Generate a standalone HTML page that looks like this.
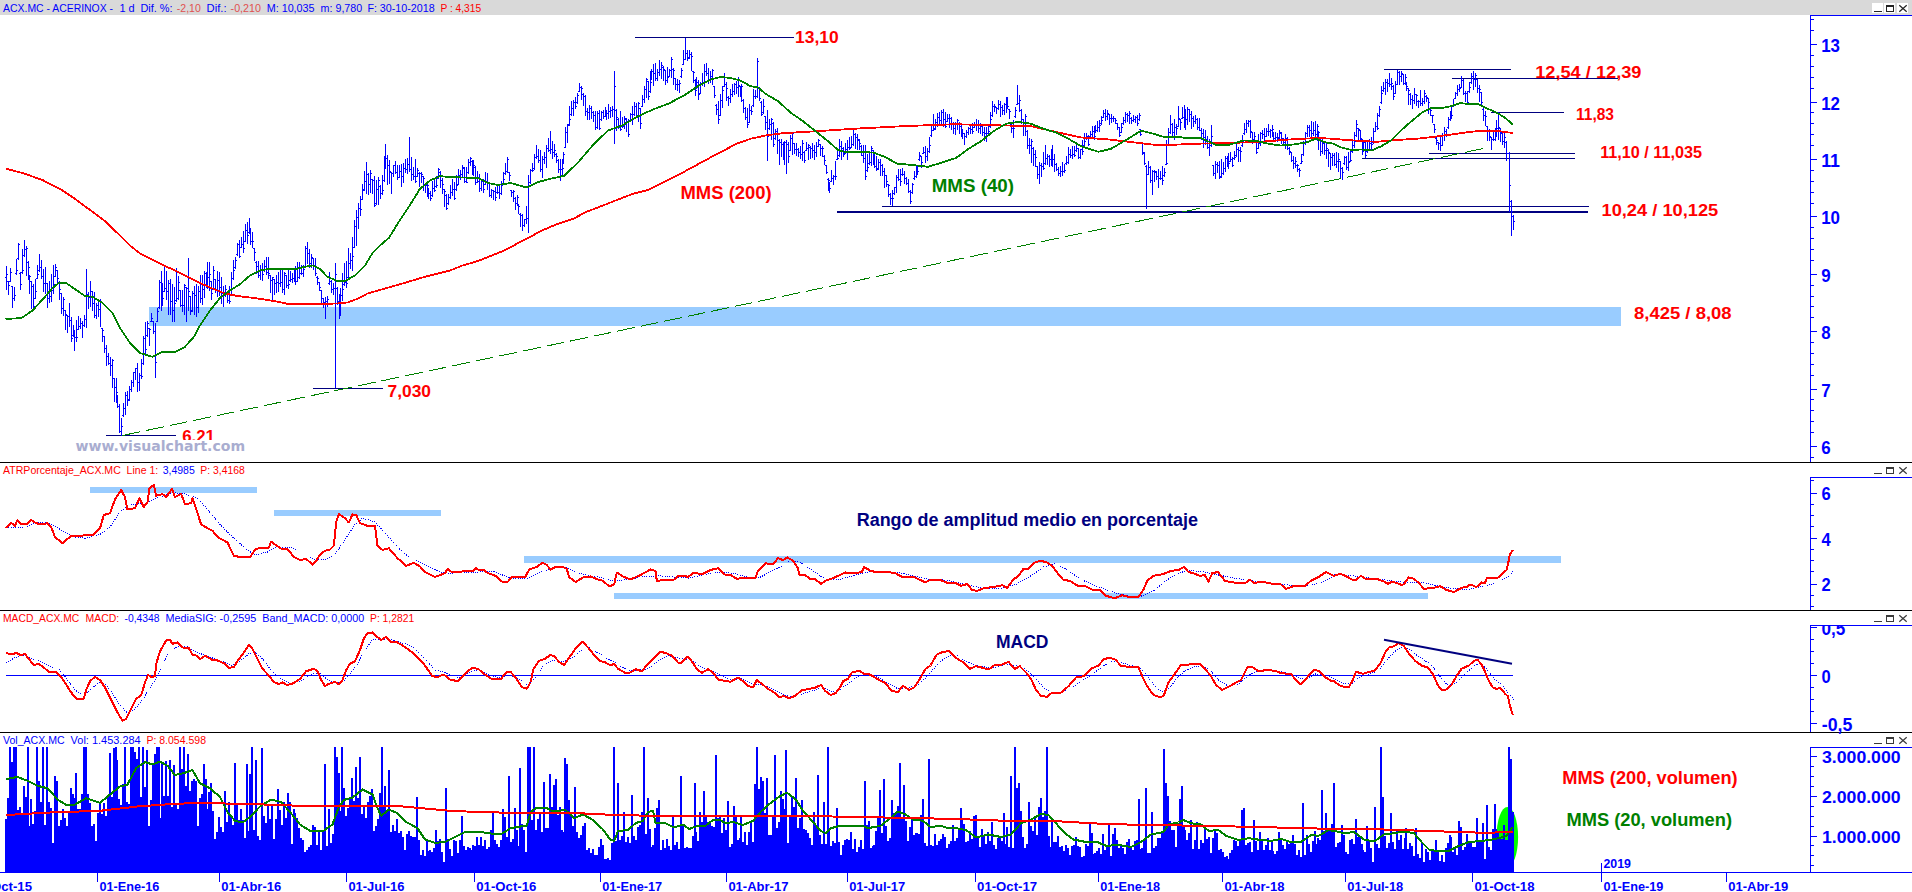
<!DOCTYPE html>
<html lang="es"><head><meta charset="utf-8"><title>ACX.MC - ACERINOX</title>
<style>html,body{margin:0;padding:0;background:#fff;overflow:hidden}svg{display:block;font-family:"Liberation Sans",sans-serif}.c{shape-rendering:crispEdges}</style></head><body>
<svg width="1912" height="892" viewBox="0 0 1912 892">
<rect width="1912" height="892" fill="#fff"/>
<rect x="0" y="0" width="1912" height="15" fill="#d9d9d9" class="c"/>
<text x="3.1" y="12.3" font-size="11" fill="#0000ff" textLength="109.9" lengthAdjust="spacingAndGlyphs" >ACX.MC - ACERINOX -</text>
<text x="119.5" y="12.3" font-size="11" fill="#0000ff" textLength="15.2" lengthAdjust="spacingAndGlyphs" >1 d</text>
<text x="140.4" y="12.3" font-size="11" fill="#0000ff" textLength="32.2" lengthAdjust="spacingAndGlyphs" >Dif. %:</text>
<text x="176.8" y="12.3" font-size="11" fill="#e05050" textLength="24.0" lengthAdjust="spacingAndGlyphs" >-2,10</text>
<text x="206.6" y="12.3" font-size="11" fill="#0000ff" textLength="19.9" lengthAdjust="spacingAndGlyphs" >Dif.:</text>
<text x="230.6" y="12.3" font-size="11" fill="#e05050" textLength="30.4" lengthAdjust="spacingAndGlyphs" >-0,210</text>
<text x="266.7" y="12.3" font-size="11" fill="#0000ff" textLength="47.9" lengthAdjust="spacingAndGlyphs" >M: 10,035</text>
<text x="320.6" y="12.3" font-size="11" fill="#0000ff" textLength="41.6" lengthAdjust="spacingAndGlyphs" >m: 9,780</text>
<text x="367.4" y="12.3" font-size="11" fill="#0000ff" textLength="67.2" lengthAdjust="spacingAndGlyphs" >F: 30-10-2018</text>
<text x="440.4" y="12.3" font-size="11" fill="#ff0000" textLength="40.8" lengthAdjust="spacingAndGlyphs" >P : 4,315</text>
<rect x="1872" y="3" width="11" height="10" fill="#fff" class="c"/>
<rect x="1884" y="3" width="11" height="10" fill="#fff" class="c"/>
<rect x="1897" y="3" width="11" height="10" fill="#fff" class="c"/>
<g fill="#222" class="c"><rect x="1874" y="11" width="8" height="1"/><rect x="1886" y="5" width="8" height="2"/><rect x="1886" y="5" width="1" height="7"/><rect x="1893" y="5" width="1" height="7"/><rect x="1886" y="11" width="8" height="1"/></g>
<path d="M1899.3 5.3L1906.7 11.7M1906.7 5.3L1899.3 11.7" stroke="#222" stroke-width="1.2" fill="none"/>
<rect x="0" y="462" width="1912" height="1" fill="#000" class="c"/>
<rect x="0" y="610" width="1912" height="1" fill="#000" class="c"/>
<rect x="0" y="732" width="1912" height="1" fill="#000" class="c"/>
<g fill="#3a3a3a" class="c">
<rect x="1874" y="473" width="8" height="1"/>
<rect x="1886" y="467" width="8" height="2"/><rect x="1886" y="467" width="1" height="7"/><rect x="1893" y="467" width="1" height="7"/><rect x="1886" y="473" width="8" height="1"/>
</g><path d="M1899.3 467.3L1906.7 473.7M1906.7 467.3L1899.3 473.7" stroke="#3a3a3a" stroke-width="1.2" fill="none"/>
<g fill="#3a3a3a" class="c">
<rect x="1874" y="621" width="8" height="1"/>
<rect x="1886" y="615" width="8" height="2"/><rect x="1886" y="615" width="1" height="7"/><rect x="1893" y="615" width="1" height="7"/><rect x="1886" y="621" width="8" height="1"/>
</g><path d="M1899.3 615.3L1906.7 621.7M1906.7 615.3L1899.3 621.7" stroke="#3a3a3a" stroke-width="1.2" fill="none"/>
<g fill="#3a3a3a" class="c">
<rect x="1874" y="743" width="8" height="1"/>
<rect x="1886" y="737" width="8" height="2"/><rect x="1886" y="737" width="1" height="7"/><rect x="1893" y="737" width="1" height="7"/><rect x="1886" y="743" width="8" height="1"/>
</g><path d="M1899.3 737.3L1906.7 743.7M1906.7 737.3L1899.3 743.7" stroke="#3a3a3a" stroke-width="1.2" fill="none"/>
<g class="c" fill="#0000ff">
<rect x="1810" y="15" width="102" height="1"/>
<rect x="1810" y="15" width="1" height="447"/>
<rect x="1810" y="446" width="7" height="1"/>
<rect x="1810" y="389" width="7" height="1"/>
<rect x="1810" y="331" width="7" height="1"/>
<rect x="1810" y="274" width="7" height="1"/>
<rect x="1810" y="216" width="7" height="1"/>
<rect x="1810" y="159" width="7" height="1"/>
<rect x="1810" y="102" width="7" height="1"/>
<rect x="1810" y="44" width="7" height="1"/>
<rect x="1810" y="457" width="4" height="1"/>
<rect x="1810" y="399" width="4" height="1"/>
<rect x="1810" y="410" width="4" height="1"/>
<rect x="1810" y="421" width="4" height="1"/>
<rect x="1810" y="432" width="4" height="1"/>
<rect x="1810" y="342" width="4" height="1"/>
<rect x="1810" y="353" width="4" height="1"/>
<rect x="1810" y="364" width="4" height="1"/>
<rect x="1810" y="375" width="4" height="1"/>
<rect x="1810" y="285" width="4" height="1"/>
<rect x="1810" y="296" width="4" height="1"/>
<rect x="1810" y="306" width="4" height="1"/>
<rect x="1810" y="317" width="4" height="1"/>
<rect x="1810" y="227" width="4" height="1"/>
<rect x="1810" y="238" width="4" height="1"/>
<rect x="1810" y="249" width="4" height="1"/>
<rect x="1810" y="260" width="4" height="1"/>
<rect x="1810" y="170" width="4" height="1"/>
<rect x="1810" y="181" width="4" height="1"/>
<rect x="1810" y="192" width="4" height="1"/>
<rect x="1810" y="203" width="4" height="1"/>
<rect x="1810" y="112" width="4" height="1"/>
<rect x="1810" y="123" width="4" height="1"/>
<rect x="1810" y="134" width="4" height="1"/>
<rect x="1810" y="145" width="4" height="1"/>
<rect x="1810" y="55" width="4" height="1"/>
<rect x="1810" y="66" width="4" height="1"/>
<rect x="1810" y="77" width="4" height="1"/>
<rect x="1810" y="88" width="4" height="1"/>
<rect x="1810" y="19" width="4" height="1"/>
<rect x="1810" y="30" width="4" height="1"/>
</g>
<text x="1821.2" y="454.0" font-size="17.5" fill="#0000ff" font-weight="bold" textLength="9.4" lengthAdjust="spacingAndGlyphs" >6</text>
<text x="1821.2" y="396.6" font-size="17.5" fill="#0000ff" font-weight="bold" textLength="9.4" lengthAdjust="spacingAndGlyphs" >7</text>
<text x="1821.2" y="339.2" font-size="17.5" fill="#0000ff" font-weight="bold" textLength="9.4" lengthAdjust="spacingAndGlyphs" >8</text>
<text x="1821.2" y="281.8" font-size="17.5" fill="#0000ff" font-weight="bold" textLength="9.4" lengthAdjust="spacingAndGlyphs" >9</text>
<text x="1821.2" y="224.4" font-size="17.5" fill="#0000ff" font-weight="bold" textLength="18.8" lengthAdjust="spacingAndGlyphs" >10</text>
<text x="1821.2" y="167.0" font-size="17.5" fill="#0000ff" font-weight="bold" textLength="18.8" lengthAdjust="spacingAndGlyphs" >11</text>
<text x="1821.2" y="109.6" font-size="17.5" fill="#0000ff" font-weight="bold" textLength="18.8" lengthAdjust="spacingAndGlyphs" >12</text>
<text x="1821.2" y="52.2" font-size="17.5" fill="#0000ff" font-weight="bold" textLength="18.8" lengthAdjust="spacingAndGlyphs" >13</text>
<g class="c" fill="#0000ff">
<rect x="1810" y="477" width="102" height="1"/>
<rect x="1810" y="477" width="1" height="133"/>
<rect x="1810" y="584" width="7" height="1"/>
<rect x="1810" y="538" width="7" height="1"/>
<rect x="1810" y="493" width="7" height="1"/>
<rect x="1810" y="595" width="4" height="1"/>
<rect x="1810" y="606" width="4" height="1"/>
<rect x="1810" y="549" width="4" height="1"/>
<rect x="1810" y="560" width="4" height="1"/>
<rect x="1810" y="571" width="4" height="1"/>
<rect x="1810" y="504" width="4" height="1"/>
<rect x="1810" y="515" width="4" height="1"/>
<rect x="1810" y="526" width="4" height="1"/>
<rect x="1810" y="480" width="4" height="1"/>
</g>
<text x="1821.5" y="590.7" font-size="17.5" fill="#0000ff" font-weight="bold" textLength="9.2" lengthAdjust="spacingAndGlyphs" >2</text>
<text x="1821.5" y="545.5" font-size="17.5" fill="#0000ff" font-weight="bold" textLength="9.2" lengthAdjust="spacingAndGlyphs" >4</text>
<text x="1821.5" y="499.8" font-size="17.5" fill="#0000ff" font-weight="bold" textLength="9.2" lengthAdjust="spacingAndGlyphs" >6</text>
<clipPath id="cm"><rect x="1811" y="626" width="101" height="106"/></clipPath>
<g class="c" fill="#0000ff">
<rect x="1810" y="625" width="102" height="1"/>
<rect x="1810" y="625" width="1" height="107"/>
<rect x="1810" y="627" width="7" height="1"/>
<rect x="1810" y="675" width="7" height="1"/>
<rect x="1810" y="723" width="7" height="1"/>
<rect x="1810" y="711" width="4" height="1"/>
<rect x="1810" y="699" width="4" height="1"/>
<rect x="1810" y="687" width="4" height="1"/>
<rect x="1810" y="663" width="4" height="1"/>
<rect x="1810" y="651" width="4" height="1"/>
<rect x="1810" y="639" width="4" height="1"/>
</g>
<g clip-path="url(#cm)">
<text x="1821.5" y="634.8" font-size="17.5" fill="#0000ff" font-weight="bold" textLength="23.8" lengthAdjust="spacingAndGlyphs" >0,5</text>
</g>
<text x="1821.5" y="682.6" font-size="17.5" fill="#0000ff" font-weight="bold" textLength="9.2" lengthAdjust="spacingAndGlyphs" >0</text>
<text x="1821.8" y="730.5" font-size="17.5" fill="#0000ff" font-weight="bold" textLength="30.6" lengthAdjust="spacingAndGlyphs" >-0,5</text>
<g class="c" fill="#0000ff">
<rect x="1810" y="747" width="102" height="1"/>
<rect x="1810" y="747" width="1" height="125"/>
<rect x="1810" y="836" width="7" height="1"/>
<rect x="1810" y="796" width="7" height="1"/>
<rect x="1810" y="756" width="7" height="1"/>
<rect x="1810" y="865" width="4" height="1"/>
<rect x="1810" y="855" width="4" height="1"/>
<rect x="1810" y="845" width="4" height="1"/>
<rect x="1810" y="826" width="4" height="1"/>
<rect x="1810" y="816" width="4" height="1"/>
<rect x="1810" y="806" width="4" height="1"/>
<rect x="1810" y="786" width="4" height="1"/>
<rect x="1810" y="776" width="4" height="1"/>
<rect x="1810" y="766" width="4" height="1"/>
</g>
<text x="1822.0" y="842.6" font-size="17" fill="#0000ff" font-weight="bold" textLength="78.6" lengthAdjust="spacingAndGlyphs" >1.000.000</text>
<text x="1822.0" y="802.8" font-size="17" fill="#0000ff" font-weight="bold" textLength="78.6" lengthAdjust="spacingAndGlyphs" >2.000.000</text>
<text x="1822.0" y="763.0" font-size="17" fill="#0000ff" font-weight="bold" textLength="78.6" lengthAdjust="spacingAndGlyphs" >3.000.000</text>
<rect x="0" y="872" width="1912" height="1" fill="#0000ff" class="c"/>
<g class="c" fill="#0000ff">
<rect x="97" y="872" width="1" height="10"/>
<rect x="219" y="872" width="1" height="10"/>
<rect x="346" y="872" width="1" height="10"/>
<rect x="474" y="872" width="1" height="10"/>
<rect x="600" y="872" width="1" height="10"/>
<rect x="726" y="872" width="1" height="10"/>
<rect x="847" y="872" width="1" height="10"/>
<rect x="975" y="872" width="1" height="10"/>
<rect x="1098" y="872" width="1" height="10"/>
<rect x="1222" y="872" width="1" height="10"/>
<rect x="1345" y="872" width="1" height="10"/>
<rect x="1472" y="872" width="1" height="10"/>
<rect x="1601" y="872" width="1" height="10"/>
<rect x="1726" y="872" width="1" height="10"/>
<rect x="1601" y="863" width="1" height="19"/>
</g>
<text x="-28.0" y="890.5" font-size="13.3" fill="#0000ff" font-weight="bold" textLength="60.0" lengthAdjust="spacingAndGlyphs" >01-Oct-15</text>
<text x="99.4" y="890.5" font-size="13.3" fill="#0000ff" font-weight="bold" textLength="60.0" lengthAdjust="spacingAndGlyphs" >01-Ene-16</text>
<text x="221.2" y="890.5" font-size="13.3" fill="#0000ff" font-weight="bold" textLength="60.0" lengthAdjust="spacingAndGlyphs" >01-Abr-16</text>
<text x="348.4" y="890.5" font-size="13.3" fill="#0000ff" font-weight="bold" textLength="56.0" lengthAdjust="spacingAndGlyphs" >01-Jul-16</text>
<text x="476.3" y="890.5" font-size="13.3" fill="#0000ff" font-weight="bold" textLength="60.0" lengthAdjust="spacingAndGlyphs" >01-Oct-16</text>
<text x="602.2" y="890.5" font-size="13.3" fill="#0000ff" font-weight="bold" textLength="60.0" lengthAdjust="spacingAndGlyphs" >01-Ene-17</text>
<text x="728.4" y="890.5" font-size="13.3" fill="#0000ff" font-weight="bold" textLength="60.0" lengthAdjust="spacingAndGlyphs" >01-Abr-17</text>
<text x="849.2" y="890.5" font-size="13.3" fill="#0000ff" font-weight="bold" textLength="56.0" lengthAdjust="spacingAndGlyphs" >01-Jul-17</text>
<text x="977.1" y="890.5" font-size="13.3" fill="#0000ff" font-weight="bold" textLength="60.0" lengthAdjust="spacingAndGlyphs" >01-Oct-17</text>
<text x="1100.2" y="890.5" font-size="13.3" fill="#0000ff" font-weight="bold" textLength="60.0" lengthAdjust="spacingAndGlyphs" >01-Ene-18</text>
<text x="1224.4" y="890.5" font-size="13.3" fill="#0000ff" font-weight="bold" textLength="60.0" lengthAdjust="spacingAndGlyphs" >01-Abr-18</text>
<text x="1347.3" y="890.5" font-size="13.3" fill="#0000ff" font-weight="bold" textLength="56.0" lengthAdjust="spacingAndGlyphs" >01-Jul-18</text>
<text x="1474.5" y="890.5" font-size="13.3" fill="#0000ff" font-weight="bold" textLength="60.0" lengthAdjust="spacingAndGlyphs" >01-Oct-18</text>
<text x="1603.4" y="890.5" font-size="13.3" fill="#0000ff" font-weight="bold" textLength="60.0" lengthAdjust="spacingAndGlyphs" >01-Ene-19</text>
<text x="1728.2" y="890.5" font-size="13.3" fill="#0000ff" font-weight="bold" textLength="60.0" lengthAdjust="spacingAndGlyphs" >01-Abr-19</text>
<text x="1603.5" y="867.8" font-size="13" fill="#0000ff" font-weight="bold" textLength="27.5" lengthAdjust="spacingAndGlyphs" >2019</text>
<rect x="149" y="307" width="1472" height="18.6" fill="#99ccff" class="c"/>
<g class="c" fill="#000080">
<rect x="635.0" y="37.0" width="158.5" height="1"/>
<rect x="106.0" y="435.0" width="70.0" height="1"/>
<rect x="313.0" y="388.0" width="69.5" height="1"/>
<rect x="1384.0" y="69.0" width="127.0" height="1"/>
<rect x="1452.0" y="78.0" width="165.7" height="1"/>
<rect x="1491.0" y="112.0" width="73.0" height="1"/>
<rect x="1429.0" y="153.0" width="145.7" height="1"/>
<rect x="1362.0" y="158.0" width="212.7" height="1"/>
<rect x="881.7" y="206.0" width="706.8" height="1"/>
<rect x="837.0" y="211.0" width="751.0" height="2"/>
</g>
<line x1="122.5" y1="435.5" x2="1482.8" y2="148.6" stroke="#008000" stroke-width="1" stroke-dasharray="18 6.07" class="c"/>
<path d="M6.5 265.8V290.1M6.5 277.5h-1.5M6.5 274.5h1.5M8.5 280.9V294.9M8.5 281.5h-1.5M8.5 285.5h1.5M10.5 268.3V282.4M10.5 281.5h-1.5M10.5 272.5h1.5M12.5 285.7V307.5M12.5 286.5h-1.5M12.5 298.5h1.5M14.5 286.6V300.5M14.5 298.5h-1.5M14.5 295.5h1.5M16.5 259.1V274.5M16.5 273.5h-1.5M16.5 270.5h1.5M18.5 243.3V259.7M18.5 258.5h-1.5M18.5 244.5h1.5M20.5 272.3V289.6M20.5 273.5h-1.5M20.5 284.5h1.5M22.5 249.3V273.6M22.5 272.5h-1.5M22.5 270.5h1.5M24.5 240.0V256.8M24.5 255.5h-1.5M24.5 249.5h1.5M26.5 245.8V275.6M26.5 249.5h-1.5M26.5 248.5h1.5M28.5 261.2V280.1M28.5 262.5h-1.5M28.5 267.5h1.5M29.5 275.0V294.2M29.5 276.5h-1.5M29.5 276.5h1.5M31.5 280.5V309.1M31.5 281.5h-1.5M31.5 286.5h1.5M33.5 284.4V309.3M33.5 286.5h-1.5M33.5 306.5h1.5M35.5 279.2V299.3M35.5 298.5h-1.5M35.5 291.5h1.5M37.5 264.9V279.3M37.5 278.5h-1.5M37.5 274.5h1.5M39.5 254.4V271.8M39.5 270.5h-1.5M39.5 267.5h1.5M41.5 260.1V279.3M41.5 267.5h-1.5M41.5 276.5h1.5M43.5 268.7V292.4M43.5 276.5h-1.5M43.5 283.5h1.5M45.5 266.8V294.4M45.5 283.5h-1.5M45.5 283.5h1.5M47.5 283.0V308.4M47.5 283.5h-1.5M47.5 298.5h1.5M49.5 281.1V303.1M49.5 298.5h-1.5M49.5 296.5h1.5M51.5 274.0V302.3M51.5 296.5h-1.5M51.5 290.5h1.5M53.5 264.8V293.8M53.5 290.5h-1.5M53.5 284.5h1.5M55.5 263.9V277.3M55.5 276.5h-1.5M55.5 267.5h1.5M57.5 269.7V283.1M57.5 270.5h-1.5M57.5 278.5h1.5M59.5 281.2V299.5M59.5 282.5h-1.5M59.5 289.5h1.5M61.5 292.6V314.4M61.5 293.5h-1.5M61.5 308.5h1.5M63.5 297.3V315.9M63.5 308.5h-1.5M63.5 299.5h1.5M65.5 310.0V330.3M65.5 310.5h-1.5M65.5 314.5h1.5M67.5 314.6V333.4M67.5 315.5h-1.5M67.5 316.5h1.5M69.5 303.4V326.5M69.5 316.5h-1.5M69.5 320.5h1.5M71.5 317.1V341.5M71.5 320.5h-1.5M71.5 338.5h1.5M73.5 325.4V336.5M73.5 335.5h-1.5M73.5 332.5h1.5M74.5 330.2V350.5M74.5 332.5h-1.5M74.5 337.5h1.5M76.5 320.2V342.4M76.5 337.5h-1.5M76.5 337.5h1.5M78.5 315.8V330.2M78.5 329.5h-1.5M78.5 326.5h1.5M80.5 318.0V328.6M80.5 326.5h-1.5M80.5 323.5h1.5M82.5 320.8V338.1M82.5 323.5h-1.5M82.5 325.5h1.5M84.5 315.4V327.0M84.5 325.5h-1.5M84.5 319.5h1.5M86.5 269.0V328.0M86.5 319.5h-1.5M86.5 294.5h1.5M88.5 291.5V309.2M88.5 294.5h-1.5M88.5 297.5h1.5M90.5 280.6V306.6M90.5 297.5h-1.5M90.5 291.5h1.5M92.5 290.6V311.0M92.5 291.5h-1.5M92.5 303.5h1.5M94.5 292.0V317.8M94.5 303.5h-1.5M94.5 315.5h1.5M96.5 303.4V319.4M96.5 315.5h-1.5M96.5 305.5h1.5M98.5 298.8V317.2M98.5 305.5h-1.5M98.5 309.5h1.5M100.5 299.4V327.1M100.5 309.5h-1.5M100.5 301.5h1.5M102.5 327.5V342.3M102.5 328.5h-1.5M102.5 330.5h1.5M104.5 335.8V352.5M104.5 336.5h-1.5M104.5 348.5h1.5M106.5 344.8V365.7M106.5 348.5h-1.5M106.5 356.5h1.5M108.5 352.8V364.9M108.5 356.5h-1.5M108.5 363.5h1.5M110.5 357.3V376.4M110.5 363.5h-1.5M110.5 365.5h1.5M112.5 358.8V387.8M112.5 365.5h-1.5M112.5 360.5h1.5M114.5 377.5V402.3M114.5 378.5h-1.5M114.5 387.5h1.5M116.5 378.1V402.9M116.5 387.5h-1.5M116.5 392.5h1.5M117.5 394.9V408.4M117.5 395.5h-1.5M117.5 406.5h1.5M119.5 404.1V432.6M119.5 406.5h-1.5M119.5 431.5h1.5M121.5 418.0V435.5M121.5 431.5h-1.5M121.5 426.5h1.5M123.5 402.8V416.9M123.5 415.5h-1.5M123.5 408.5h1.5M125.5 392.3V415.4M125.5 408.5h-1.5M125.5 395.5h1.5M127.5 391.2V406.1M127.5 395.5h-1.5M127.5 400.5h1.5M129.5 386.2V400.5M129.5 399.5h-1.5M129.5 389.5h1.5M131.5 380.1V391.9M131.5 389.5h-1.5M131.5 382.5h1.5M133.5 371.8V386.5M133.5 382.5h-1.5M133.5 372.5h1.5M135.5 367.5V380.4M135.5 372.5h-1.5M135.5 368.5h1.5M137.5 363.2V392.2M137.5 368.5h-1.5M137.5 382.5h1.5M139.5 373.1V390.8M139.5 382.5h-1.5M139.5 375.5h1.5M141.5 359.1V378.5M141.5 375.5h-1.5M141.5 376.5h1.5M143.5 335.5V364.5M143.5 363.5h-1.5M143.5 338.5h1.5M145.5 321.8V355.1M145.5 338.5h-1.5M145.5 349.5h1.5M147.5 321.1V336.9M147.5 335.5h-1.5M147.5 323.5h1.5M149.5 328.0V345.5M149.5 328.5h-1.5M149.5 329.5h1.5M151.5 312.5V322.0M151.5 321.5h-1.5M151.5 318.5h1.5M153.5 333.7V322.0M153.5 321.5h-1.5M153.5 331.5h1.5M155.5 323.0V378.0M155.5 331.5h-1.5M155.5 362.5h1.5M157.5 307.8V322.0M157.5 321.5h-1.5M157.5 311.5h1.5M159.5 280.0V308.7M159.5 307.5h-1.5M159.5 282.5h1.5M161.5 271.2V310.8M161.5 282.5h-1.5M161.5 301.5h1.5M162.5 282.9V305.6M162.5 301.5h-1.5M162.5 298.5h1.5M164.5 267.3V292.4M164.5 291.5h-1.5M164.5 288.5h1.5M166.5 270.5V299.6M166.5 288.5h-1.5M166.5 291.5h1.5M168.5 279.7V315.1M168.5 291.5h-1.5M168.5 283.5h1.5M170.5 278.5V314.8M170.5 283.5h-1.5M170.5 301.5h1.5M172.5 283.7V322.0M172.5 301.5h-1.5M172.5 310.5h1.5M174.5 286.9V321.8M174.5 310.5h-1.5M174.5 303.5h1.5M176.5 268.2V301.7M176.5 300.5h-1.5M176.5 298.5h1.5M178.5 275.6V300.3M178.5 298.5h-1.5M178.5 282.5h1.5M180.5 289.9V306.9M180.5 290.5h-1.5M180.5 305.5h1.5M182.5 290.4V312.3M182.5 305.5h-1.5M182.5 305.5h1.5M184.5 284.4V314.8M184.5 305.5h-1.5M184.5 285.5h1.5M186.5 286.9V322.0M186.5 287.5h-1.5M186.5 288.5h1.5M188.5 258.0V310.5M188.5 288.5h-1.5M188.5 291.5h1.5M190.5 295.6V315.3M190.5 296.5h-1.5M190.5 311.5h1.5M192.5 291.3V311.9M192.5 310.5h-1.5M192.5 293.5h1.5M194.5 286.0V314.6M194.5 293.5h-1.5M194.5 295.5h1.5M196.5 284.1V317.2M196.5 295.5h-1.5M196.5 307.5h1.5M198.5 285.9V312.6M198.5 307.5h-1.5M198.5 291.5h1.5M200.5 274.6V302.8M200.5 291.5h-1.5M200.5 298.5h1.5M202.5 275.4V305.0M202.5 298.5h-1.5M202.5 289.5h1.5M204.5 271.1V298.4M204.5 289.5h-1.5M204.5 273.5h1.5M206.5 271.9V287.8M206.5 273.5h-1.5M206.5 277.5h1.5M207.5 262.2V288.9M207.5 277.5h-1.5M207.5 277.5h1.5M209.5 261.8V291.3M209.5 277.5h-1.5M209.5 274.5h1.5M211.5 281.0V300.0M211.5 281.5h-1.5M211.5 293.5h1.5M213.5 265.8V290.1M213.5 289.5h-1.5M213.5 270.5h1.5M215.5 278.8V293.3M215.5 279.5h-1.5M215.5 289.5h1.5M217.5 270.6V296.8M217.5 289.5h-1.5M217.5 280.5h1.5M219.5 271.9V296.2M219.5 280.5h-1.5M219.5 287.5h1.5M221.5 277.0V303.6M221.5 287.5h-1.5M221.5 293.5h1.5M223.5 285.7V306.8M223.5 293.5h-1.5M223.5 294.5h1.5M225.5 284.7V297.3M225.5 294.5h-1.5M225.5 289.5h1.5M227.5 292.3V302.9M227.5 293.5h-1.5M227.5 300.5h1.5M229.5 286.0V303.7M229.5 300.5h-1.5M229.5 301.5h1.5M231.5 272.4V295.0M231.5 294.5h-1.5M231.5 289.5h1.5M233.5 259.5V279.7M233.5 278.5h-1.5M233.5 270.5h1.5M235.5 256.7V268.8M235.5 267.5h-1.5M235.5 260.5h1.5M237.5 243.2V255.9M237.5 254.5h-1.5M237.5 244.5h1.5M239.5 239.9V257.5M239.5 244.5h-1.5M239.5 256.5h1.5M241.5 237.1V248.4M241.5 247.5h-1.5M241.5 244.5h1.5M243.5 231.1V253.3M243.5 244.5h-1.5M243.5 248.5h1.5M245.5 224.3V242.1M245.5 241.5h-1.5M245.5 230.5h1.5M247.5 221.8V244.2M247.5 230.5h-1.5M247.5 235.5h1.5M249.5 218.0V233.7M249.5 232.5h-1.5M249.5 232.5h1.5M250.5 227.9V245.3M250.5 232.5h-1.5M250.5 241.5h1.5M252.5 231.5V248.1M252.5 241.5h-1.5M252.5 241.5h1.5M254.5 247.7V260.7M254.5 248.5h-1.5M254.5 252.5h1.5M256.5 261.3V274.1M256.5 262.5h-1.5M256.5 266.5h1.5M258.5 260.9V278.2M258.5 266.5h-1.5M258.5 275.5h1.5M260.5 265.0V280.0M260.5 275.5h-1.5M260.5 270.5h1.5M262.5 262.9V280.6M262.5 270.5h-1.5M262.5 274.5h1.5M264.5 259.9V271.6M264.5 270.5h-1.5M264.5 266.5h1.5M266.5 257.0V275.4M266.5 266.5h-1.5M266.5 272.5h1.5M268.5 256.9V278.6M268.5 272.5h-1.5M268.5 273.5h1.5M270.5 274.9V293.2M270.5 275.5h-1.5M270.5 280.5h1.5M272.5 276.6V300.8M272.5 280.5h-1.5M272.5 277.5h1.5M274.5 278.5V295.3M274.5 279.5h-1.5M274.5 283.5h1.5M276.5 275.1V292.7M276.5 283.5h-1.5M276.5 282.5h1.5M278.5 271.9V291.9M278.5 282.5h-1.5M278.5 283.5h1.5M280.5 269.8V286.5M280.5 283.5h-1.5M280.5 282.5h1.5M282.5 269.8V292.9M282.5 282.5h-1.5M282.5 289.5h1.5M284.5 271.7V294.7M284.5 289.5h-1.5M284.5 273.5h1.5M286.5 274.8V288.1M286.5 275.5h-1.5M286.5 285.5h1.5M288.5 267.9V289.1M288.5 285.5h-1.5M288.5 284.5h1.5M290.5 270.6V281.8M290.5 280.5h-1.5M290.5 279.5h1.5M292.5 273.1V283.2M292.5 279.5h-1.5M292.5 278.5h1.5M294.5 269.5V281.6M294.5 278.5h-1.5M294.5 273.5h1.5M295.5 265.6V284.7M295.5 273.5h-1.5M295.5 281.5h1.5M297.5 262.0V282.3M297.5 281.5h-1.5M297.5 277.5h1.5M299.5 261.9V279.0M299.5 277.5h-1.5M299.5 273.5h1.5M301.5 264.7V275.3M301.5 273.5h-1.5M301.5 273.5h1.5M303.5 265.0V276.7M303.5 273.5h-1.5M303.5 269.5h1.5M305.5 246.2V267.6M305.5 266.5h-1.5M305.5 248.5h1.5M307.5 242.0V263.6M307.5 248.5h-1.5M307.5 253.5h1.5M309.5 248.9V267.9M309.5 253.5h-1.5M309.5 263.5h1.5M311.5 253.6V268.2M311.5 263.5h-1.5M311.5 257.5h1.5M313.5 257.5V270.0M313.5 258.5h-1.5M313.5 266.5h1.5M315.5 258.0V275.5M315.5 266.5h-1.5M315.5 273.5h1.5M317.5 276.0V285.0M317.5 277.5h-1.5M317.5 278.5h1.5M319.5 281.7V290.8M319.5 282.5h-1.5M319.5 287.5h1.5M321.5 289.7V303.0M321.5 290.5h-1.5M321.5 298.5h1.5M323.5 297.9V307.7M323.5 298.5h-1.5M323.5 302.5h1.5M325.5 296.7V318.6M325.5 302.5h-1.5M325.5 301.5h1.5M327.5 295.9V306.7M327.5 301.5h-1.5M327.5 299.5h1.5M329.5 271.5V284.8M329.5 283.5h-1.5M329.5 281.5h1.5M331.5 279.5V293.3M331.5 281.5h-1.5M331.5 289.5h1.5M333.5 282.9V294.8M333.5 289.5h-1.5M333.5 288.5h1.5M335.5 263.0V388.0M335.5 288.5h-1.5M335.5 274.5h1.5M337.5 287.0V305.2M337.5 288.5h-1.5M337.5 301.5h1.5M339.5 293.6V318.6M339.5 301.5h-1.5M339.5 312.5h1.5M340.5 288.4V316.2M340.5 312.5h-1.5M340.5 295.5h1.5M342.5 273.3V301.0M342.5 295.5h-1.5M342.5 289.5h1.5M344.5 263.2V285.8M344.5 284.5h-1.5M344.5 282.5h1.5M346.5 260.9V287.7M346.5 282.5h-1.5M346.5 283.5h1.5M348.5 247.9V278.1M348.5 277.5h-1.5M348.5 263.5h1.5M350.5 253.0V269.0M350.5 263.5h-1.5M350.5 260.5h1.5M352.5 236.5V270.8M352.5 260.5h-1.5M352.5 256.5h1.5M354.5 220.3V248.1M354.5 247.5h-1.5M354.5 226.5h1.5M356.5 210.1V246.4M356.5 226.5h-1.5M356.5 217.5h1.5M358.5 202.6V229.4M358.5 217.5h-1.5M358.5 208.5h1.5M360.5 196.1V216.3M360.5 208.5h-1.5M360.5 209.5h1.5M362.5 183.8V200.2M362.5 199.5h-1.5M362.5 190.5h1.5M364.5 170.6V190.7M364.5 189.5h-1.5M364.5 181.5h1.5M366.5 161.7V194.0M366.5 181.5h-1.5M366.5 174.5h1.5M368.5 173.4V195.1M368.5 174.5h-1.5M368.5 184.5h1.5M370.5 169.8V192.6M370.5 184.5h-1.5M370.5 173.5h1.5M372.5 178.6V194.1M372.5 179.5h-1.5M372.5 180.5h1.5M374.5 175.5V206.5M374.5 180.5h-1.5M374.5 205.5h1.5M376.5 180.0V204.5M376.5 203.5h-1.5M376.5 189.5h1.5M378.5 177.0V205.4M378.5 189.5h-1.5M378.5 180.5h1.5M380.5 185.4V199.1M380.5 186.5h-1.5M380.5 193.5h1.5M382.5 174.9V195.0M382.5 193.5h-1.5M382.5 190.5h1.5M384.5 155.6V181.9M384.5 180.5h-1.5M384.5 160.5h1.5M385.5 144.4V168.7M385.5 160.5h-1.5M385.5 158.5h1.5M387.5 155.3V184.6M387.5 158.5h-1.5M387.5 165.5h1.5M389.5 159.6V183.5M389.5 165.5h-1.5M389.5 171.5h1.5M391.5 171.7V193.7M391.5 172.5h-1.5M391.5 173.5h1.5M393.5 164.5V176.6M393.5 173.5h-1.5M393.5 165.5h1.5M395.5 161.1V174.1M395.5 165.5h-1.5M395.5 172.5h1.5M397.5 165.1V179.7M397.5 172.5h-1.5M397.5 177.5h1.5M399.5 165.3V178.2M399.5 177.5h-1.5M399.5 171.5h1.5M401.5 163.9V186.8M401.5 171.5h-1.5M401.5 176.5h1.5M403.5 163.0V182.5M403.5 176.5h-1.5M403.5 168.5h1.5M405.5 159.2V172.9M405.5 168.5h-1.5M405.5 169.5h1.5M407.5 157.5V173.5M407.5 169.5h-1.5M407.5 164.5h1.5M409.5 137.0V172.0M409.5 164.5h-1.5M409.5 169.5h1.5M411.5 156.8V180.5M411.5 169.5h-1.5M411.5 174.5h1.5M413.5 166.5V179.9M413.5 174.5h-1.5M413.5 176.5h1.5M415.5 159.3V182.8M415.5 176.5h-1.5M415.5 181.5h1.5M417.5 167.6V177.1M417.5 176.5h-1.5M417.5 170.5h1.5M419.5 172.4V186.8M419.5 173.5h-1.5M419.5 173.5h1.5M421.5 171.8V183.4M421.5 173.5h-1.5M421.5 174.5h1.5M423.5 175.6V190.5M423.5 176.5h-1.5M423.5 178.5h1.5M425.5 184.1V193.4M425.5 185.5h-1.5M425.5 185.5h1.5M427.5 184.0V196.8M427.5 185.5h-1.5M427.5 185.5h1.5M428.5 187.6V199.0M428.5 188.5h-1.5M428.5 193.5h1.5M430.5 190.5V200.8M430.5 193.5h-1.5M430.5 198.5h1.5M432.5 180.7V196.7M432.5 195.5h-1.5M432.5 188.5h1.5M434.5 177.6V192.3M434.5 188.5h-1.5M434.5 190.5h1.5M436.5 175.9V187.9M436.5 186.5h-1.5M436.5 185.5h1.5M438.5 167.9V179.4M438.5 178.5h-1.5M438.5 169.5h1.5M440.5 171.4V187.6M440.5 172.5h-1.5M440.5 180.5h1.5M442.5 178.1V193.5M442.5 180.5h-1.5M442.5 184.5h1.5M444.5 188.5V206.9M444.5 189.5h-1.5M444.5 191.5h1.5M446.5 194.1V210.0M446.5 195.5h-1.5M446.5 208.5h1.5M448.5 194.4V204.5M448.5 203.5h-1.5M448.5 197.5h1.5M450.5 184.5V199.1M450.5 197.5h-1.5M450.5 192.5h1.5M452.5 178.9V196.4M452.5 192.5h-1.5M452.5 189.5h1.5M454.5 182.3V200.2M454.5 189.5h-1.5M454.5 198.5h1.5M456.5 174.5V190.8M456.5 189.5h-1.5M456.5 185.5h1.5M458.5 168.6V185.3M458.5 184.5h-1.5M458.5 175.5h1.5M460.5 169.5V179.6M460.5 175.5h-1.5M460.5 174.5h1.5M462.5 164.8V177.8M462.5 174.5h-1.5M462.5 167.5h1.5M464.5 167.4V183.0M464.5 168.5h-1.5M464.5 181.5h1.5M466.5 166.8V183.2M466.5 181.5h-1.5M466.5 182.5h1.5M468.5 159.0V173.8M468.5 172.5h-1.5M468.5 162.5h1.5M470.5 157.3V166.0M470.5 162.5h-1.5M470.5 158.5h1.5M472.5 160.2V175.2M472.5 161.5h-1.5M472.5 164.5h1.5M473.5 160.0V175.5M473.5 164.5h-1.5M473.5 165.5h1.5M475.5 166.4V184.8M475.5 167.5h-1.5M475.5 182.5h1.5M477.5 171.4V183.4M477.5 182.5h-1.5M477.5 181.5h1.5M479.5 174.2V192.1M479.5 181.5h-1.5M479.5 188.5h1.5M481.5 180.0V191.3M481.5 188.5h-1.5M481.5 181.5h1.5M483.5 178.6V193.3M483.5 181.5h-1.5M483.5 189.5h1.5M485.5 172.4V185.3M485.5 184.5h-1.5M485.5 181.5h1.5M487.5 173.0V190.1M487.5 181.5h-1.5M487.5 183.5h1.5M489.5 182.1V197.2M489.5 183.5h-1.5M489.5 195.5h1.5M491.5 188.6V198.1M491.5 195.5h-1.5M491.5 190.5h1.5M493.5 189.7V200.2M493.5 190.5h-1.5M493.5 191.5h1.5M495.5 187.0V200.9M495.5 191.5h-1.5M495.5 197.5h1.5M497.5 186.3V193.8M497.5 192.5h-1.5M497.5 192.5h1.5M499.5 184.8V198.9M499.5 192.5h-1.5M499.5 193.5h1.5M501.5 180.7V194.6M501.5 193.5h-1.5M501.5 185.5h1.5M503.5 172.1V184.3M503.5 183.5h-1.5M503.5 179.5h1.5M505.5 162.7V174.5M505.5 173.5h-1.5M505.5 171.5h1.5M507.5 156.8V173.1M507.5 171.5h-1.5M507.5 159.5h1.5M509.5 171.8V181.1M509.5 172.5h-1.5M509.5 175.5h1.5M511.5 189.7V197.3M511.5 190.5h-1.5M511.5 192.5h1.5M513.5 189.6V202.0M513.5 192.5h-1.5M513.5 191.5h1.5M515.5 197.4V209.5M515.5 198.5h-1.5M515.5 203.5h1.5M517.5 194.7V204.8M517.5 203.5h-1.5M517.5 197.5h1.5M518.5 204.2V213.6M518.5 205.5h-1.5M518.5 206.5h1.5M520.5 213.2V226.5M520.5 214.5h-1.5M520.5 215.5h1.5M522.5 213.8V230.9M522.5 215.5h-1.5M522.5 225.5h1.5M524.5 218.7V227.2M524.5 225.5h-1.5M524.5 219.5h1.5M526.5 206.1V223.6M526.5 219.5h-1.5M526.5 218.5h1.5M528.5 175.0V232.5M528.5 218.5h-1.5M528.5 186.5h1.5M530.5 168.6V183.7M530.5 182.5h-1.5M530.5 170.5h1.5M532.5 162.8V172.3M532.5 170.5h-1.5M532.5 170.5h1.5M534.5 154.0V169.5M534.5 168.5h-1.5M534.5 157.5h1.5M536.5 144.8V158.6M536.5 157.5h-1.5M536.5 156.5h1.5M538.5 148.8V163.0M538.5 156.5h-1.5M538.5 160.5h1.5M540.5 150.4V172.4M540.5 160.5h-1.5M540.5 169.5h1.5M542.5 156.0V178.3M542.5 169.5h-1.5M542.5 159.5h1.5M544.5 152.0V163.7M544.5 159.5h-1.5M544.5 157.5h1.5M546.5 145.2V168.1M546.5 157.5h-1.5M546.5 148.5h1.5M548.5 138.4V152.2M548.5 148.5h-1.5M548.5 150.5h1.5M550.5 130.9V153.6M550.5 150.5h-1.5M550.5 149.5h1.5M552.5 141.4V158.7M552.5 149.5h-1.5M552.5 152.5h1.5M554.5 144.0V157.1M554.5 152.5h-1.5M554.5 150.5h1.5M556.5 153.2V163.3M556.5 154.5h-1.5M556.5 156.5h1.5M558.5 159.2V172.6M558.5 160.5h-1.5M558.5 169.5h1.5M560.5 158.5V180.6M560.5 169.5h-1.5M560.5 169.5h1.5M562.5 158.8V175.1M562.5 169.5h-1.5M562.5 168.5h1.5M563.5 151.6V163.7M563.5 162.5h-1.5M563.5 154.5h1.5M565.5 126.9V148.4M565.5 147.5h-1.5M565.5 132.5h1.5M567.5 123.8V143.3M567.5 132.5h-1.5M567.5 125.5h1.5M569.5 106.0V125.6M569.5 124.5h-1.5M569.5 119.5h1.5M571.5 101.0V115.6M571.5 114.5h-1.5M571.5 108.5h1.5M573.5 99.7V116.0M573.5 108.5h-1.5M573.5 102.5h1.5M575.5 96.6V109.4M575.5 102.5h-1.5M575.5 106.5h1.5M577.5 92.5V103.8M577.5 102.5h-1.5M577.5 95.5h1.5M579.5 83.2V92.1M579.5 91.5h-1.5M579.5 87.5h1.5M581.5 85.8V100.1M581.5 87.5h-1.5M581.5 88.5h1.5M583.5 93.0V105.8M583.5 94.5h-1.5M583.5 96.5h1.5M585.5 95.0V115.5M585.5 96.5h-1.5M585.5 111.5h1.5M587.5 108.3V120.0M587.5 111.5h-1.5M587.5 112.5h1.5M589.5 104.8V120.2M589.5 112.5h-1.5M589.5 108.5h1.5M591.5 105.6V118.9M591.5 108.5h-1.5M591.5 112.5h1.5M593.5 111.4V122.2M593.5 112.5h-1.5M593.5 115.5h1.5M595.5 111.4V130.3M595.5 115.5h-1.5M595.5 127.5h1.5M597.5 110.8V129.3M597.5 127.5h-1.5M597.5 113.5h1.5M599.5 110.3V129.7M599.5 113.5h-1.5M599.5 128.5h1.5M601.5 110.6V120.6M601.5 119.5h-1.5M601.5 112.5h1.5M603.5 109.6V118.5M603.5 112.5h-1.5M603.5 116.5h1.5M605.5 107.2V117.3M605.5 116.5h-1.5M605.5 113.5h1.5M606.5 110.4V120.3M606.5 113.5h-1.5M606.5 113.5h1.5M608.5 104.1V118.5M608.5 113.5h-1.5M608.5 111.5h1.5M610.5 107.1V118.2M610.5 111.5h-1.5M610.5 110.5h1.5M612.5 105.8V116.7M612.5 110.5h-1.5M612.5 109.5h1.5M614.5 71.2V143.8M614.5 109.5h-1.5M614.5 86.5h1.5M616.5 109.1V131.1M616.5 110.5h-1.5M616.5 117.5h1.5M618.5 118.4V128.9M618.5 119.5h-1.5M618.5 127.5h1.5M620.5 111.4V130.8M620.5 127.5h-1.5M620.5 129.5h1.5M622.5 116.9V128.0M622.5 126.5h-1.5M622.5 126.5h1.5M624.5 115.9V129.0M624.5 126.5h-1.5M624.5 118.5h1.5M626.5 118.2V131.6M626.5 119.5h-1.5M626.5 122.5h1.5M628.5 118.8V137.1M628.5 122.5h-1.5M628.5 134.5h1.5M630.5 112.8V121.1M630.5 120.5h-1.5M630.5 114.5h1.5M632.5 106.3V125.2M632.5 114.5h-1.5M632.5 119.5h1.5M634.5 101.7V115.9M634.5 114.5h-1.5M634.5 106.5h1.5M636.5 103.2V116.6M636.5 106.5h-1.5M636.5 115.5h1.5M638.5 102.0V122.3M638.5 115.5h-1.5M638.5 103.5h1.5M640.5 107.5V128.6M640.5 108.5h-1.5M640.5 123.5h1.5M642.5 94.7V107.0M642.5 106.5h-1.5M642.5 99.5h1.5M644.5 86.2V102.7M644.5 99.5h-1.5M644.5 89.5h1.5M646.5 78.3V97.5M646.5 89.5h-1.5M646.5 79.5h1.5M648.5 80.9V100.1M648.5 81.5h-1.5M648.5 96.5h1.5M650.5 71.4V92.7M650.5 91.5h-1.5M650.5 82.5h1.5M651.5 68.8V79.5M651.5 78.5h-1.5M651.5 71.5h1.5M653.5 64.0V85.5M653.5 71.5h-1.5M653.5 73.5h1.5M655.5 62.7V81.1M655.5 73.5h-1.5M655.5 78.5h1.5M657.5 68.8V80.9M657.5 78.5h-1.5M657.5 72.5h1.5M659.5 60.1V76.3M659.5 72.5h-1.5M659.5 69.5h1.5M661.5 62.1V79.1M661.5 69.5h-1.5M661.5 65.5h1.5M663.5 66.2V81.1M663.5 67.5h-1.5M663.5 69.5h1.5M665.5 69.5V85.0M665.5 70.5h-1.5M665.5 80.5h1.5M667.5 67.0V82.8M667.5 80.5h-1.5M667.5 77.5h1.5M669.5 68.7V77.3M669.5 76.5h-1.5M669.5 70.5h1.5M671.5 57.0V77.5M671.5 70.5h-1.5M671.5 59.5h1.5M673.5 68.1V84.6M673.5 69.5h-1.5M673.5 70.5h1.5M675.5 77.9V89.5M675.5 78.5h-1.5M675.5 84.5h1.5M677.5 78.8V90.9M677.5 84.5h-1.5M677.5 84.5h1.5M679.5 79.8V92.9M679.5 84.5h-1.5M679.5 83.5h1.5M681.5 68.3V77.7M681.5 76.5h-1.5M681.5 70.5h1.5M683.5 50.4V65.3M683.5 64.5h-1.5M683.5 59.5h1.5M685.5 38.0V60.0M685.5 59.5h-1.5M685.5 53.5h1.5M687.5 50.0V61.1M687.5 53.5h-1.5M687.5 58.5h1.5M689.5 50.0V58.7M689.5 57.5h-1.5M689.5 54.5h1.5M691.5 51.9V70.7M691.5 54.5h-1.5M691.5 56.5h1.5M693.5 70.9V83.2M693.5 71.5h-1.5M693.5 72.5h1.5M695.5 79.2V95.5M695.5 80.5h-1.5M695.5 90.5h1.5M696.5 77.2V89.4M696.5 88.5h-1.5M696.5 82.5h1.5M698.5 79.9V100.4M698.5 82.5h-1.5M698.5 94.5h1.5M700.5 81.7V94.1M700.5 93.5h-1.5M700.5 83.5h1.5M702.5 72.6V86.1M702.5 83.5h-1.5M702.5 82.5h1.5M704.5 63.9V87.1M704.5 82.5h-1.5M704.5 71.5h1.5M706.5 63.0V76.1M706.5 71.5h-1.5M706.5 73.5h1.5M708.5 67.6V83.6M708.5 73.5h-1.5M708.5 80.5h1.5M710.5 70.6V82.8M710.5 80.5h-1.5M710.5 76.5h1.5M712.5 69.3V85.1M712.5 76.5h-1.5M712.5 70.5h1.5M714.5 85.7V97.8M714.5 86.5h-1.5M714.5 95.5h1.5M716.5 104.4V115.2M716.5 105.5h-1.5M716.5 109.5h1.5M718.5 100.5V123.5M718.5 109.5h-1.5M718.5 119.5h1.5M720.5 94.0V116.2M720.5 115.5h-1.5M720.5 100.5h1.5M722.5 85.9V108.2M722.5 100.5h-1.5M722.5 90.5h1.5M724.5 73.4V87.0M724.5 86.5h-1.5M724.5 84.5h1.5M726.5 81.7V100.5M726.5 84.5h-1.5M726.5 88.5h1.5M728.5 96.2V105.6M728.5 97.5h-1.5M728.5 98.5h1.5M730.5 89.2V103.1M730.5 98.5h-1.5M730.5 94.5h1.5M732.5 83.8V96.9M732.5 94.5h-1.5M732.5 91.5h1.5M734.5 83.1V95.3M734.5 91.5h-1.5M734.5 84.5h1.5M736.5 80.9V93.8M736.5 84.5h-1.5M736.5 87.5h1.5M738.5 76.5V97.0M738.5 87.5h-1.5M738.5 85.5h1.5M740.5 85.7V96.8M740.5 86.5h-1.5M740.5 91.5h1.5M741.5 83.8V102.4M741.5 91.5h-1.5M741.5 86.5h1.5M743.5 99.1V112.8M743.5 100.5h-1.5M743.5 108.5h1.5M745.5 107.2V120.2M745.5 108.5h-1.5M745.5 117.5h1.5M747.5 108.2V127.7M747.5 117.5h-1.5M747.5 124.5h1.5M749.5 103.7V123.1M749.5 122.5h-1.5M749.5 110.5h1.5M751.5 105.8V114.7M751.5 110.5h-1.5M751.5 111.5h1.5M753.5 89.0V107.0M753.5 105.5h-1.5M753.5 96.5h1.5M755.5 89.8V99.0M755.5 96.5h-1.5M755.5 96.5h1.5M757.5 58.0V97.5M757.5 96.5h-1.5M757.5 61.5h1.5M759.5 86.9V100.7M759.5 87.5h-1.5M759.5 98.5h1.5M761.5 101.0V116.1M761.5 102.5h-1.5M761.5 114.5h1.5M763.5 99.3V113.7M763.5 112.5h-1.5M763.5 106.5h1.5M765.5 115.5V130.1M765.5 116.5h-1.5M765.5 122.5h1.5M767.5 110.0V161.0M767.5 122.5h-1.5M767.5 136.5h1.5M769.5 119.1V129.6M769.5 128.5h-1.5M769.5 124.5h1.5M771.5 118.2V140.0M771.5 124.5h-1.5M771.5 119.5h1.5M773.5 122.2V146.6M773.5 123.5h-1.5M773.5 144.5h1.5M775.5 128.8V139.8M775.5 138.5h-1.5M775.5 131.5h1.5M777.5 128.2V154.2M777.5 131.5h-1.5M777.5 133.5h1.5M779.5 139.2V165.2M779.5 140.5h-1.5M779.5 142.5h1.5M781.5 139.2V156.8M781.5 142.5h-1.5M781.5 144.5h1.5M783.5 141.8V160.1M783.5 144.5h-1.5M783.5 156.5h1.5M784.5 141.3V164.7M784.5 156.5h-1.5M784.5 142.5h1.5M786.5 140.0V173.8M786.5 142.5h-1.5M786.5 144.5h1.5M788.5 142.1V162.7M788.5 144.5h-1.5M788.5 156.5h1.5M790.5 135.2V151.1M790.5 150.5h-1.5M790.5 138.5h1.5M792.5 132.3V154.9M792.5 138.5h-1.5M792.5 133.5h1.5M794.5 142.9V154.3M794.5 143.5h-1.5M794.5 149.5h1.5M796.5 142.5V155.7M796.5 149.5h-1.5M796.5 149.5h1.5M798.5 147.7V157.4M798.5 149.5h-1.5M798.5 152.5h1.5M800.5 146.2V158.6M800.5 152.5h-1.5M800.5 154.5h1.5M802.5 140.4V160.8M802.5 154.5h-1.5M802.5 143.5h1.5M804.5 151.2V162.8M804.5 152.5h-1.5M804.5 160.5h1.5M806.5 142.2V151.3M806.5 150.5h-1.5M806.5 148.5h1.5M808.5 143.9V159.9M808.5 148.5h-1.5M808.5 145.5h1.5M810.5 146.0V158.7M810.5 147.5h-1.5M810.5 148.5h1.5M812.5 143.3V157.8M812.5 148.5h-1.5M812.5 150.5h1.5M814.5 144.8V159.9M814.5 150.5h-1.5M814.5 152.5h1.5M816.5 142.2V157.0M816.5 152.5h-1.5M816.5 146.5h1.5M818.5 138.7V147.3M818.5 146.5h-1.5M818.5 140.5h1.5M820.5 143.5V156.3M820.5 144.5h-1.5M820.5 148.5h1.5M822.5 145.9V156.7M822.5 148.5h-1.5M822.5 148.5h1.5M824.5 155.0V164.7M824.5 156.5h-1.5M824.5 160.5h1.5M826.5 164.5V174.3M826.5 165.5h-1.5M826.5 172.5h1.5M828.5 178.2V191.4M828.5 179.5h-1.5M828.5 180.5h1.5M829.5 182.1V192.8M829.5 183.5h-1.5M829.5 188.5h1.5M831.5 169.5V182.3M831.5 181.5h-1.5M831.5 178.5h1.5M833.5 174.6V184.7M833.5 178.5h-1.5M833.5 176.5h1.5M835.5 161.0V180.0M835.5 176.5h-1.5M835.5 176.5h1.5M837.5 150.9V160.1M837.5 159.5h-1.5M837.5 158.5h1.5M839.5 138.7V157.0M839.5 155.5h-1.5M839.5 146.5h1.5M841.5 140.5V160.0M841.5 146.5h-1.5M841.5 148.5h1.5M843.5 146.6V156.7M843.5 148.5h-1.5M843.5 154.5h1.5M845.5 143.3V154.4M845.5 153.5h-1.5M845.5 149.5h1.5M847.5 139.5V160.0M847.5 149.5h-1.5M847.5 147.5h1.5M849.5 136.6V150.1M849.5 147.5h-1.5M849.5 148.5h1.5M851.5 136.2V148.2M851.5 147.5h-1.5M851.5 144.5h1.5M853.5 127.7V146.3M853.5 144.5h-1.5M853.5 134.5h1.5M855.5 133.0V149.3M855.5 134.5h-1.5M855.5 137.5h1.5M857.5 133.6V150.2M857.5 137.5h-1.5M857.5 139.5h1.5M859.5 139.2V149.8M859.5 140.5h-1.5M859.5 143.5h1.5M861.5 145.0V156.4M861.5 146.5h-1.5M861.5 155.5h1.5M863.5 145.1V163.0M863.5 155.5h-1.5M863.5 158.5h1.5M865.5 145.0V180.0M865.5 158.5h-1.5M865.5 176.5h1.5M867.5 153.5V171.8M867.5 170.5h-1.5M867.5 167.5h1.5M869.5 153.4V164.8M869.5 163.5h-1.5M869.5 162.5h1.5M871.5 146.4V165.5M871.5 162.5h-1.5M871.5 148.5h1.5M873.5 149.5V165.3M873.5 150.5h-1.5M873.5 157.5h1.5M874.5 154.0V167.7M874.5 157.5h-1.5M874.5 166.5h1.5M876.5 155.6V171.0M876.5 166.5h-1.5M876.5 169.5h1.5M878.5 159.4V169.9M878.5 168.5h-1.5M878.5 162.5h1.5M880.5 158.6V175.6M880.5 162.5h-1.5M880.5 165.5h1.5M882.5 164.0V176.2M882.5 165.5h-1.5M882.5 171.5h1.5M884.5 167.9V187.8M884.5 171.5h-1.5M884.5 175.5h1.5M886.5 174.5V187.1M886.5 175.5h-1.5M886.5 181.5h1.5M888.5 183.7V196.9M888.5 184.5h-1.5M888.5 185.5h1.5M890.5 193.4V205.0M890.5 194.5h-1.5M890.5 198.5h1.5M892.5 190.0V206.2M892.5 198.5h-1.5M892.5 198.5h1.5M894.5 186.7V194.8M894.5 193.5h-1.5M894.5 187.5h1.5M896.5 174.7V193.2M896.5 187.5h-1.5M896.5 177.5h1.5M898.5 168.7V181.3M898.5 177.5h-1.5M898.5 179.5h1.5M900.5 168.5V186.3M900.5 179.5h-1.5M900.5 181.5h1.5M902.5 168.0V175.8M902.5 174.5h-1.5M902.5 174.5h1.5M904.5 170.5V184.1M904.5 174.5h-1.5M904.5 178.5h1.5M906.5 176.9V185.4M906.5 178.5h-1.5M906.5 183.5h1.5M908.5 179.2V193.4M908.5 183.5h-1.5M908.5 191.5h1.5M910.5 190.0V203.8M910.5 191.5h-1.5M910.5 201.5h1.5M912.5 183.0V193.7M912.5 192.5h-1.5M912.5 184.5h1.5M914.5 170.8V179.6M914.5 178.5h-1.5M914.5 176.5h1.5M916.5 165.4V178.3M916.5 176.5h-1.5M916.5 169.5h1.5M917.5 165.7V175.3M917.5 169.5h-1.5M917.5 171.5h1.5M919.5 152.3V161.0M919.5 159.5h-1.5M919.5 155.5h1.5M921.5 155.5V168.0M921.5 156.5h-1.5M921.5 162.5h1.5M923.5 146.5V154.3M923.5 153.5h-1.5M923.5 152.5h1.5M925.5 146.0V162.5M925.5 152.5h-1.5M925.5 156.5h1.5M927.5 147.5V161.3M927.5 156.5h-1.5M927.5 151.5h1.5M929.5 137.1V153.4M929.5 151.5h-1.5M929.5 145.5h1.5M931.5 126.4V136.7M931.5 135.5h-1.5M931.5 130.5h1.5M933.5 113.8V131.1M933.5 130.5h-1.5M933.5 129.5h1.5M935.5 119.4V129.5M935.5 128.5h-1.5M935.5 122.5h1.5M937.5 113.0V127.0M937.5 122.5h-1.5M937.5 117.5h1.5M939.5 112.4V124.9M939.5 117.5h-1.5M939.5 120.5h1.5M941.5 110.3V126.4M941.5 120.5h-1.5M941.5 112.5h1.5M943.5 109.2V127.0M943.5 112.5h-1.5M943.5 119.5h1.5M945.5 112.2V128.1M945.5 119.5h-1.5M945.5 126.5h1.5M947.5 114.4V122.2M947.5 121.5h-1.5M947.5 118.5h1.5M949.5 114.0V127.8M949.5 118.5h-1.5M949.5 118.5h1.5M951.5 117.3V130.4M951.5 118.5h-1.5M951.5 123.5h1.5M953.5 121.9V133.6M953.5 123.5h-1.5M953.5 128.5h1.5M955.5 121.9V135.3M955.5 128.5h-1.5M955.5 124.5h1.5M957.5 118.6V130.4M957.5 124.5h-1.5M957.5 120.5h1.5M959.5 122.4V133.8M959.5 123.5h-1.5M959.5 124.5h1.5M961.5 125.3V137.0M961.5 126.5h-1.5M961.5 129.5h1.5M962.5 130.0V139.3M962.5 131.5h-1.5M962.5 133.5h1.5M964.5 133.0V144.5M964.5 133.5h-1.5M964.5 136.5h1.5M966.5 129.6V138.4M966.5 136.5h-1.5M966.5 132.5h1.5M968.5 127.1V135.1M968.5 132.5h-1.5M968.5 128.5h1.5M970.5 123.9V134.4M970.5 128.5h-1.5M970.5 129.5h1.5M972.5 122.8V133.5M972.5 129.5h-1.5M972.5 131.5h1.5M974.5 121.5V128.0M974.5 127.5h-1.5M974.5 125.5h1.5M976.5 118.9V131.4M976.5 125.5h-1.5M976.5 125.5h1.5M978.5 120.0V133.1M978.5 125.5h-1.5M978.5 128.5h1.5M980.5 123.0V133.8M980.5 128.5h-1.5M980.5 125.5h1.5M982.5 125.8V135.6M982.5 126.5h-1.5M982.5 132.5h1.5M984.5 126.7V141.1M984.5 132.5h-1.5M984.5 133.5h1.5M986.5 126.5V142.3M986.5 133.5h-1.5M986.5 135.5h1.5M988.5 126.4V134.8M988.5 133.5h-1.5M988.5 131.5h1.5M990.5 111.5V127.6M990.5 126.5h-1.5M990.5 119.5h1.5M992.5 101.2V116.9M992.5 115.5h-1.5M992.5 106.5h1.5M994.5 103.6V112.1M994.5 106.5h-1.5M994.5 106.5h1.5M996.5 106.6V114.1M996.5 107.5h-1.5M996.5 108.5h1.5M998.5 99.6V110.1M998.5 108.5h-1.5M998.5 104.5h1.5M1000.5 100.9V117.1M1000.5 104.5h-1.5M1000.5 107.5h1.5M1002.5 104.6V114.5M1002.5 107.5h-1.5M1002.5 110.5h1.5M1004.5 102.9V114.9M1004.5 110.5h-1.5M1004.5 104.5h1.5M1006.5 96.8V112.8M1006.5 104.5h-1.5M1006.5 102.5h1.5M1007.5 97.1V109.1M1007.5 102.5h-1.5M1007.5 106.5h1.5M1009.5 108.8V119.4M1009.5 109.5h-1.5M1009.5 111.5h1.5M1011.5 123.2V132.5M1011.5 124.5h-1.5M1011.5 128.5h1.5M1013.5 119.5V138.2M1013.5 128.5h-1.5M1013.5 128.5h1.5M1015.5 107.3V117.6M1015.5 116.5h-1.5M1015.5 110.5h1.5M1017.5 84.5V105.0M1017.5 104.5h-1.5M1017.5 103.5h1.5M1019.5 95.0V112.3M1019.5 103.5h-1.5M1019.5 100.5h1.5M1021.5 109.2V123.5M1021.5 110.5h-1.5M1021.5 119.5h1.5M1023.5 118.6V136.4M1023.5 119.5h-1.5M1023.5 122.5h1.5M1025.5 114.3V136.3M1025.5 122.5h-1.5M1025.5 116.5h1.5M1027.5 130.3V148.6M1027.5 131.5h-1.5M1027.5 145.5h1.5M1029.5 138.3V153.5M1029.5 145.5h-1.5M1029.5 145.5h1.5M1031.5 139.2V163.3M1031.5 145.5h-1.5M1031.5 141.5h1.5M1033.5 147.4V165.8M1033.5 148.5h-1.5M1033.5 154.5h1.5M1035.5 150.3V166.8M1035.5 154.5h-1.5M1035.5 157.5h1.5M1037.5 165.9V178.5M1037.5 166.5h-1.5M1037.5 174.5h1.5M1039.5 162.2V184.4M1039.5 174.5h-1.5M1039.5 165.5h1.5M1041.5 162.7V176.6M1041.5 165.5h-1.5M1041.5 166.5h1.5M1043.5 151.6V170.4M1043.5 166.5h-1.5M1043.5 168.5h1.5M1045.5 144.8V164.6M1045.5 163.5h-1.5M1045.5 158.5h1.5M1047.5 154.3V164.7M1047.5 158.5h-1.5M1047.5 156.5h1.5M1049.5 154.9V166.9M1049.5 156.5h-1.5M1049.5 159.5h1.5M1051.5 148.7V165.6M1051.5 159.5h-1.5M1051.5 154.5h1.5M1052.5 145.4V167.1M1052.5 154.5h-1.5M1052.5 159.5h1.5M1054.5 154.0V171.5M1054.5 159.5h-1.5M1054.5 164.5h1.5M1056.5 162.6V171.4M1056.5 164.5h-1.5M1056.5 169.5h1.5M1058.5 166.6V176.0M1058.5 169.5h-1.5M1058.5 173.5h1.5M1060.5 165.6V177.4M1060.5 173.5h-1.5M1060.5 171.5h1.5M1062.5 161.7V175.5M1062.5 171.5h-1.5M1062.5 171.5h1.5M1064.5 163.8V173.3M1064.5 171.5h-1.5M1064.5 170.5h1.5M1066.5 156.2V165.0M1066.5 163.5h-1.5M1066.5 162.5h1.5M1068.5 146.6V163.9M1068.5 162.5h-1.5M1068.5 154.5h1.5M1070.5 149.3V157.6M1070.5 154.5h-1.5M1070.5 155.5h1.5M1072.5 145.5V159.2M1072.5 155.5h-1.5M1072.5 154.5h1.5M1074.5 146.3V157.3M1074.5 154.5h-1.5M1074.5 155.5h1.5M1076.5 142.5V151.8M1076.5 150.5h-1.5M1076.5 144.5h1.5M1078.5 147.5V159.4M1078.5 148.5h-1.5M1078.5 157.5h1.5M1080.5 148.7V158.5M1080.5 157.5h-1.5M1080.5 149.5h1.5M1082.5 139.9V155.3M1082.5 149.5h-1.5M1082.5 151.5h1.5M1084.5 133.2V146.8M1084.5 145.5h-1.5M1084.5 141.5h1.5M1086.5 132.6V139.6M1086.5 138.5h-1.5M1086.5 136.5h1.5M1088.5 134.7V146.2M1088.5 136.5h-1.5M1088.5 144.5h1.5M1090.5 130.7V137.6M1090.5 136.5h-1.5M1090.5 134.5h1.5M1092.5 126.1V139.4M1092.5 134.5h-1.5M1092.5 131.5h1.5M1094.5 125.7V140.4M1094.5 131.5h-1.5M1094.5 136.5h1.5M1095.5 125.2V132.7M1095.5 131.5h-1.5M1095.5 130.5h1.5M1097.5 121.2V132.0M1097.5 130.5h-1.5M1097.5 127.5h1.5M1099.5 120.3V132.3M1099.5 127.5h-1.5M1099.5 125.5h1.5M1101.5 116.4V125.0M1101.5 123.5h-1.5M1101.5 120.5h1.5M1103.5 110.1V118.2M1103.5 117.5h-1.5M1103.5 113.5h1.5M1105.5 108.9V120.5M1105.5 113.5h-1.5M1105.5 116.5h1.5M1107.5 109.6V120.3M1107.5 116.5h-1.5M1107.5 113.5h1.5M1109.5 113.7V124.5M1109.5 114.5h-1.5M1109.5 118.5h1.5M1111.5 114.0V122.5M1111.5 118.5h-1.5M1111.5 118.5h1.5M1113.5 115.5V122.1M1113.5 118.5h-1.5M1113.5 118.5h1.5M1115.5 117.9V123.6M1115.5 118.5h-1.5M1115.5 120.5h1.5M1117.5 122.7V130.2M1117.5 123.5h-1.5M1117.5 127.5h1.5M1119.5 126.7V137.4M1119.5 127.5h-1.5M1119.5 135.5h1.5M1121.5 122.6V133.2M1121.5 132.5h-1.5M1121.5 127.5h1.5M1123.5 117.2V124.5M1123.5 123.5h-1.5M1123.5 120.5h1.5M1125.5 111.6V122.9M1125.5 120.5h-1.5M1125.5 114.5h1.5M1127.5 112.5V121.5M1127.5 114.5h-1.5M1127.5 115.5h1.5M1129.5 111.4V123.6M1129.5 115.5h-1.5M1129.5 113.5h1.5M1131.5 117.2V123.9M1131.5 118.5h-1.5M1131.5 120.5h1.5M1133.5 115.4V122.4M1133.5 120.5h-1.5M1133.5 119.5h1.5M1135.5 115.7V122.5M1135.5 119.5h-1.5M1135.5 117.5h1.5M1137.5 115.0V125.6M1137.5 117.5h-1.5M1137.5 123.5h1.5M1139.5 113.1V120.7M1139.5 119.5h-1.5M1139.5 115.5h1.5M1140.5 128.6V136.1M1140.5 129.5h-1.5M1140.5 134.5h1.5M1142.5 141.5V155.2M1142.5 142.5h-1.5M1142.5 152.5h1.5M1144.5 152.1V164.8M1144.5 153.5h-1.5M1144.5 163.5h1.5M1146.5 165.0V208.8M1146.5 166.5h-1.5M1146.5 174.5h1.5M1148.5 160.6V175.3M1148.5 174.5h-1.5M1148.5 167.5h1.5M1150.5 165.6V182.5M1150.5 167.5h-1.5M1150.5 180.5h1.5M1152.5 170.0V195.0M1152.5 180.5h-1.5M1152.5 171.5h1.5M1154.5 170.3V181.7M1154.5 171.5h-1.5M1154.5 171.5h1.5M1156.5 171.4V180.2M1156.5 172.5h-1.5M1156.5 176.5h1.5M1158.5 168.8V187.5M1158.5 176.5h-1.5M1158.5 178.5h1.5M1160.5 170.9V180.2M1160.5 178.5h-1.5M1160.5 178.5h1.5M1162.5 166.2V185.3M1162.5 178.5h-1.5M1162.5 180.5h1.5M1164.5 167.9V176.5M1164.5 175.5h-1.5M1164.5 172.5h1.5M1166.5 140.0V165.0M1166.5 164.5h-1.5M1166.5 163.5h1.5M1168.5 128.2V146.2M1168.5 145.5h-1.5M1168.5 137.5h1.5M1170.5 114.6V133.7M1170.5 132.5h-1.5M1170.5 124.5h1.5M1172.5 123.0V137.2M1172.5 124.5h-1.5M1172.5 132.5h1.5M1174.5 119.1V139.6M1174.5 132.5h-1.5M1174.5 127.5h1.5M1176.5 124.2V134.5M1176.5 127.5h-1.5M1176.5 128.5h1.5M1178.5 105.7V127.2M1178.5 126.5h-1.5M1178.5 118.5h1.5M1180.5 118.5V129.7M1180.5 119.5h-1.5M1180.5 122.5h1.5M1182.5 106.6V119.4M1182.5 118.5h-1.5M1182.5 117.5h1.5M1184.5 105.3V127.7M1184.5 117.5h-1.5M1184.5 120.5h1.5M1185.5 108.7V129.8M1185.5 120.5h-1.5M1185.5 119.5h1.5M1187.5 107.4V125.2M1187.5 119.5h-1.5M1187.5 109.5h1.5M1189.5 109.0V121.9M1189.5 109.5h-1.5M1189.5 114.5h1.5M1191.5 110.5V129.4M1191.5 114.5h-1.5M1191.5 118.5h1.5M1193.5 115.5V127.1M1193.5 118.5h-1.5M1193.5 121.5h1.5M1195.5 114.5V123.5M1195.5 121.5h-1.5M1195.5 119.5h1.5M1197.5 117.6V129.5M1197.5 119.5h-1.5M1197.5 127.5h1.5M1199.5 118.4V131.4M1199.5 127.5h-1.5M1199.5 130.5h1.5M1201.5 127.8V140.3M1201.5 130.5h-1.5M1201.5 133.5h1.5M1203.5 129.4V148.4M1203.5 133.5h-1.5M1203.5 137.5h1.5M1205.5 129.7V145.4M1205.5 137.5h-1.5M1205.5 139.5h1.5M1207.5 136.2V148.8M1207.5 139.5h-1.5M1207.5 147.5h1.5M1209.5 139.4V155.7M1209.5 147.5h-1.5M1209.5 145.5h1.5M1211.5 125.0V147.0M1211.5 145.5h-1.5M1211.5 136.5h1.5M1213.5 164.6V175.7M1213.5 165.5h-1.5M1213.5 173.5h1.5M1215.5 160.8V179.3M1215.5 173.5h-1.5M1215.5 164.5h1.5M1217.5 162.2V172.8M1217.5 164.5h-1.5M1217.5 165.5h1.5M1219.5 161.0V178.5M1219.5 165.5h-1.5M1219.5 177.5h1.5M1221.5 158.7V177.9M1221.5 176.5h-1.5M1221.5 173.5h1.5M1223.5 162.1V175.1M1223.5 173.5h-1.5M1223.5 168.5h1.5M1225.5 156.1V171.8M1225.5 168.5h-1.5M1225.5 158.5h1.5M1227.5 156.2V167.1M1227.5 158.5h-1.5M1227.5 165.5h1.5M1228.5 153.3V169.2M1228.5 165.5h-1.5M1228.5 163.5h1.5M1230.5 152.2V162.3M1230.5 161.5h-1.5M1230.5 159.5h1.5M1232.5 157.3V166.6M1232.5 159.5h-1.5M1232.5 165.5h1.5M1234.5 151.4V159.7M1234.5 158.5h-1.5M1234.5 157.5h1.5M1236.5 143.1V156.8M1236.5 155.5h-1.5M1236.5 149.5h1.5M1238.5 147.4V161.7M1238.5 149.5h-1.5M1238.5 150.5h1.5M1240.5 146.5V161.8M1240.5 150.5h-1.5M1240.5 151.5h1.5M1242.5 135.4V146.8M1242.5 145.5h-1.5M1242.5 141.5h1.5M1244.5 123.2V134.8M1244.5 133.5h-1.5M1244.5 129.5h1.5M1246.5 120.0V133.4M1246.5 129.5h-1.5M1246.5 123.5h1.5M1248.5 120.0V126.7M1248.5 123.5h-1.5M1248.5 121.5h1.5M1250.5 120.3V138.2M1250.5 121.5h-1.5M1250.5 131.5h1.5M1252.5 131.5V144.3M1252.5 132.5h-1.5M1252.5 139.5h1.5M1254.5 132.3V142.0M1254.5 139.5h-1.5M1254.5 136.5h1.5M1256.5 142.0V153.9M1256.5 142.5h-1.5M1256.5 152.5h1.5M1258.5 134.2V149.3M1258.5 148.5h-1.5M1258.5 143.5h1.5M1260.5 131.8V145.9M1260.5 143.5h-1.5M1260.5 133.5h1.5M1262.5 130.3V139.3M1262.5 133.5h-1.5M1262.5 134.5h1.5M1264.5 127.7V144.1M1264.5 134.5h-1.5M1264.5 140.5h1.5M1266.5 128.4V137.4M1266.5 136.5h-1.5M1266.5 131.5h1.5M1268.5 124.1V135.9M1268.5 131.5h-1.5M1268.5 131.5h1.5M1270.5 129.1V137.5M1270.5 131.5h-1.5M1270.5 130.5h1.5M1272.5 125.3V137.2M1272.5 130.5h-1.5M1272.5 129.5h1.5M1273.5 132.0V141.0M1273.5 133.5h-1.5M1273.5 138.5h1.5M1275.5 131.7V141.8M1275.5 138.5h-1.5M1275.5 137.5h1.5M1277.5 133.1V141.6M1277.5 137.5h-1.5M1277.5 138.5h1.5M1279.5 130.0V138.5M1279.5 137.5h-1.5M1279.5 132.5h1.5M1281.5 132.1V144.1M1281.5 133.5h-1.5M1281.5 138.5h1.5M1283.5 138.4V146.4M1283.5 139.5h-1.5M1283.5 142.5h1.5M1285.5 134.0V149.1M1285.5 142.5h-1.5M1285.5 138.5h1.5M1287.5 137.1V150.1M1287.5 138.5h-1.5M1287.5 145.5h1.5M1289.5 147.4V154.7M1289.5 148.5h-1.5M1289.5 151.5h1.5M1291.5 151.5V161.5M1291.5 152.5h-1.5M1291.5 160.5h1.5M1293.5 155.5V168.9M1293.5 160.5h-1.5M1293.5 163.5h1.5M1295.5 157.4V167.9M1295.5 163.5h-1.5M1295.5 161.5h1.5M1297.5 164.3V171.7M1297.5 165.5h-1.5M1297.5 165.5h1.5M1299.5 168.3V176.6M1299.5 169.5h-1.5M1299.5 170.5h1.5M1301.5 154.0V164.3M1301.5 163.5h-1.5M1301.5 161.5h1.5M1303.5 141.4V155.7M1303.5 154.5h-1.5M1303.5 143.5h1.5M1305.5 131.6V144.7M1305.5 143.5h-1.5M1305.5 133.5h1.5M1307.5 124.8V136.7M1307.5 133.5h-1.5M1307.5 127.5h1.5M1309.5 124.7V136.5M1309.5 127.5h-1.5M1309.5 130.5h1.5M1311.5 120.8V136.8M1311.5 130.5h-1.5M1311.5 133.5h1.5M1313.5 121.9V136.3M1313.5 133.5h-1.5M1313.5 130.5h1.5M1315.5 121.4V138.0M1315.5 130.5h-1.5M1315.5 134.5h1.5M1317.5 124.2V140.7M1317.5 134.5h-1.5M1317.5 126.5h1.5M1318.5 131.1V149.7M1318.5 132.5h-1.5M1318.5 132.5h1.5M1320.5 137.6V156.2M1320.5 138.5h-1.5M1320.5 151.5h1.5M1322.5 137.6V154.4M1322.5 151.5h-1.5M1322.5 143.5h1.5M1324.5 142.3V154.8M1324.5 143.5h-1.5M1324.5 150.5h1.5M1326.5 142.2V158.7M1326.5 150.5h-1.5M1326.5 148.5h1.5M1328.5 149.3V167.3M1328.5 150.5h-1.5M1328.5 152.5h1.5M1330.5 152.8V169.7M1330.5 153.5h-1.5M1330.5 157.5h1.5M1332.5 153.1V166.2M1332.5 157.5h-1.5M1332.5 155.5h1.5M1334.5 152.8V166.2M1334.5 155.5h-1.5M1334.5 164.5h1.5M1336.5 152.0V168.1M1336.5 164.5h-1.5M1336.5 161.5h1.5M1338.5 152.8V172.1M1338.5 161.5h-1.5M1338.5 159.5h1.5M1340.5 160.7V178.2M1340.5 161.5h-1.5M1340.5 168.5h1.5M1342.5 166.9V179.6M1342.5 168.5h-1.5M1342.5 172.5h1.5M1344.5 156.4V164.8M1344.5 163.5h-1.5M1344.5 157.5h1.5M1346.5 156.2V170.3M1346.5 157.5h-1.5M1346.5 167.5h1.5M1348.5 152.2V170.7M1348.5 167.5h-1.5M1348.5 162.5h1.5M1350.5 148.5V162.1M1350.5 161.5h-1.5M1350.5 160.5h1.5M1352.5 138.9V152.6M1352.5 151.5h-1.5M1352.5 145.5h1.5M1354.5 131.9V147.7M1354.5 145.5h-1.5M1354.5 141.5h1.5M1356.5 119.6V136.8M1356.5 135.5h-1.5M1356.5 124.5h1.5M1358.5 127.9V141.9M1358.5 128.5h-1.5M1358.5 129.5h1.5M1360.5 129.5V140.2M1360.5 130.5h-1.5M1360.5 138.5h1.5M1362.5 138.8V155.0M1362.5 139.5h-1.5M1362.5 151.5h1.5M1363.5 139.6V148.9M1363.5 147.5h-1.5M1363.5 142.5h1.5M1365.5 140.8V158.0M1365.5 142.5h-1.5M1365.5 155.5h1.5M1367.5 141.9V152.6M1367.5 151.5h-1.5M1367.5 149.5h1.5M1369.5 139.0V151.2M1369.5 149.5h-1.5M1369.5 143.5h1.5M1371.5 137.3V149.9M1371.5 143.5h-1.5M1371.5 144.5h1.5M1373.5 127.7V143.6M1373.5 142.5h-1.5M1373.5 142.5h1.5M1375.5 121.5V132.1M1375.5 131.5h-1.5M1375.5 126.5h1.5M1377.5 113.3V129.9M1377.5 126.5h-1.5M1377.5 128.5h1.5M1379.5 106.3V116.9M1379.5 115.5h-1.5M1379.5 109.5h1.5M1381.5 86.2V103.7M1381.5 102.5h-1.5M1381.5 93.5h1.5M1383.5 82.2V91.8M1383.5 90.5h-1.5M1383.5 88.5h1.5M1385.5 78.5V95.2M1385.5 88.5h-1.5M1385.5 82.5h1.5M1387.5 79.2V92.1M1387.5 82.5h-1.5M1387.5 83.5h1.5M1389.5 72.6V86.8M1389.5 83.5h-1.5M1389.5 84.5h1.5M1391.5 77.7V89.7M1391.5 84.5h-1.5M1391.5 83.5h1.5M1393.5 85.2V100.4M1393.5 86.5h-1.5M1393.5 96.5h1.5M1395.5 80.9V94.1M1395.5 93.5h-1.5M1395.5 84.5h1.5M1397.5 69.5V85.0M1397.5 84.5h-1.5M1397.5 72.5h1.5M1399.5 71.0V84.7M1399.5 72.5h-1.5M1399.5 76.5h1.5M1401.5 71.0V81.8M1401.5 76.5h-1.5M1401.5 73.5h1.5M1403.5 73.5V85.2M1403.5 74.5h-1.5M1403.5 83.5h1.5M1405.5 74.1V84.9M1405.5 83.5h-1.5M1405.5 77.5h1.5M1406.5 82.2V90.5M1406.5 83.5h-1.5M1406.5 86.5h1.5M1408.5 87.8V105.3M1408.5 88.5h-1.5M1408.5 90.5h1.5M1410.5 93.2V105.3M1410.5 94.5h-1.5M1410.5 99.5h1.5M1412.5 94.6V108.8M1412.5 99.5h-1.5M1412.5 100.5h1.5M1414.5 88.0V104.1M1414.5 100.5h-1.5M1414.5 94.5h1.5M1416.5 93.5V105.5M1416.5 94.5h-1.5M1416.5 95.5h1.5M1418.5 100.2V108.4M1418.5 101.5h-1.5M1418.5 101.5h1.5M1420.5 90.4V106.4M1420.5 101.5h-1.5M1420.5 103.5h1.5M1422.5 97.9V106.3M1422.5 103.5h-1.5M1422.5 101.5h1.5M1424.5 89.6V104.3M1424.5 101.5h-1.5M1424.5 93.5h1.5M1426.5 95.4V102.2M1426.5 96.5h-1.5M1426.5 97.5h1.5M1428.5 98.0V113.8M1428.5 98.5h-1.5M1428.5 102.5h1.5M1430.5 108.4V116.0M1430.5 109.5h-1.5M1430.5 110.5h1.5M1432.5 114.6V122.5M1432.5 115.5h-1.5M1432.5 115.5h1.5M1434.5 123.5V133.4M1434.5 124.5h-1.5M1434.5 129.5h1.5M1436.5 137.1V145.1M1436.5 138.5h-1.5M1436.5 140.5h1.5M1438.5 141.8V150.0M1438.5 142.5h-1.5M1438.5 143.5h1.5M1440.5 135.5V150.6M1440.5 143.5h-1.5M1440.5 145.5h1.5M1442.5 133.4V146.1M1442.5 145.5h-1.5M1442.5 135.5h1.5M1444.5 126.8V141.2M1444.5 135.5h-1.5M1444.5 131.5h1.5M1446.5 128.7V136.6M1446.5 131.5h-1.5M1446.5 134.5h1.5M1448.5 116.8V129.0M1448.5 127.5h-1.5M1448.5 119.5h1.5M1450.5 110.8V120.8M1450.5 119.5h-1.5M1450.5 115.5h1.5M1451.5 104.9V118.7M1451.5 115.5h-1.5M1451.5 115.5h1.5M1453.5 99.1V107.2M1453.5 106.5h-1.5M1453.5 105.5h1.5M1455.5 91.8V99.3M1455.5 98.5h-1.5M1455.5 93.5h1.5M1457.5 84.9V95.9M1457.5 93.5h-1.5M1457.5 89.5h1.5M1459.5 83.5V91.7M1459.5 89.5h-1.5M1459.5 88.5h1.5M1461.5 75.6V88.0M1461.5 87.5h-1.5M1461.5 80.5h1.5M1463.5 79.2V95.0M1463.5 80.5h-1.5M1463.5 93.5h1.5M1465.5 90.5V102.3M1465.5 93.5h-1.5M1465.5 93.5h1.5M1467.5 90.7V103.6M1467.5 93.5h-1.5M1467.5 102.5h1.5M1469.5 81.5V92.9M1469.5 91.5h-1.5M1469.5 87.5h1.5M1471.5 73.0V83.9M1471.5 82.5h-1.5M1471.5 76.5h1.5M1473.5 71.2V90.0M1473.5 76.5h-1.5M1473.5 79.5h1.5M1475.5 73.0V86.8M1475.5 79.5h-1.5M1475.5 75.5h1.5M1477.5 78.5V93.0M1477.5 79.5h-1.5M1477.5 88.5h1.5M1479.5 84.7V102.2M1479.5 88.5h-1.5M1479.5 89.5h1.5M1481.5 91.8V105.1M1481.5 92.5h-1.5M1481.5 102.5h1.5M1483.5 108.1V120.9M1483.5 109.5h-1.5M1483.5 115.5h1.5M1485.5 110.5V126.1M1485.5 115.5h-1.5M1485.5 116.5h1.5M1487.5 125.8V141.2M1487.5 126.5h-1.5M1487.5 130.5h1.5M1489.5 129.1V141.4M1489.5 130.5h-1.5M1489.5 136.5h1.5M1491.5 136.5V150.0M1491.5 137.5h-1.5M1491.5 139.5h1.5M1493.5 130.8V141.2M1493.5 139.5h-1.5M1493.5 139.5h1.5M1495.5 127.9V141.0M1495.5 139.5h-1.5M1495.5 130.5h1.5M1496.5 119.6V137.4M1496.5 130.5h-1.5M1496.5 128.5h1.5M1498.5 112.2V140.0M1498.5 128.5h-1.5M1498.5 127.5h1.5M1500.5 127.6V142.4M1500.5 128.5h-1.5M1500.5 132.5h1.5M1502.5 132.8V144.9M1502.5 133.5h-1.5M1502.5 141.5h1.5M1504.5 131.1V148.3M1504.5 141.5h-1.5M1504.5 137.5h1.5M1506.5 141.2V160.9M1506.5 142.5h-1.5M1506.5 153.5h1.5M1509.5 152.0V212.0M1509.5 153.5h-1.5M1509.5 185.5h1.5M1511.5 200.0V236.0M1511.5 201.5h-1.5M1511.5 211.5h1.5M1513.5 215.0V230.0M1513.5 216.5h-1.5M1513.5 221.5h1.5" stroke="#0000ff" stroke-width="1" fill="none" class="c"/>
<polyline points="6.2,168.8 22.5,173.0 42.5,180.0 60.0,188.8 75.0,198.8 90.0,210.0 105.0,221.2 122.5,238.0 130.0,245.5 140.0,253.5 150.0,258.5 162.5,264.8 175.0,270.5 187.5,276.8 200.0,283.0 212.5,288.5 225.0,293.5 237.5,296.0 250.0,297.5 262.5,299.2 275.0,301.2 287.5,303.8 300.0,303.8 312.5,303.8 325.0,303.8 337.5,303.5 347.5,302.5 357.5,298.8 367.5,293.5 380.0,290.0 400.0,284.2 425.0,276.8 450.0,270.5 462.5,265.5 478.0,261.0 503.0,251.0 528.0,238.0 528.0,238.0 543.0,230.0 558.0,223.8 573.0,218.8 588.0,211.2 603.0,205.5 618.0,199.5 633.0,193.8 648.0,190.0 663.0,182.5 678.0,175.0 693.0,167.0 708.0,158.8 723.0,150.8 738.0,143.2 750.5,138.8 765.5,135.5 783.0,133.2 803.0,132.0 828.0,130.5 853.0,128.8 878.0,127.5 903.0,126.2 928.0,125.2 956.0,124.2 981.0,125.0 1006.0,125.5 1031.0,126.2 1056.0,132.0 1081.0,137.5 1106.0,139.2 1131.0,142.0 1156.0,145.0 1168.5,145.0 1193.5,143.8 1218.5,143.2 1243.5,142.5 1268.5,141.2 1293.5,139.2 1318.5,138.0 1334.0,138.8 1346.5,140.0 1359.0,140.8 1376.5,141.8 1396.5,140.0 1416.5,138.8 1434.0,136.8 1451.5,134.5 1469.0,132.0 1481.5,130.8 1496.5,130.8 1512.8,133.0" fill="none" stroke="#ff0000" stroke-width="1.8" stroke-linejoin="round" class="c"/>
<polyline points="5.5,318.8 15.0,318.5 22.5,317.5 32.5,310.5 45.0,296.8 52.5,288.0 58.8,283.0 66.2,283.0 75.0,289.2 85.0,296.0 92.5,296.8 102.5,303.0 112.5,313.0 120.0,328.0 130.0,343.0 140.0,353.0 152.5,356.8 162.5,351.8 175.0,351.8 185.0,346.8 195.0,335.5 200.0,325.5 210.0,310.5 220.0,298.0 230.0,290.5 240.0,284.2 250.0,275.5 260.0,270.5 270.0,268.8 282.5,268.8 295.0,269.2 305.0,266.8 312.5,265.5 320.0,269.2 327.5,276.8 337.5,281.0 345.0,281.0 355.0,275.5 365.0,265.5 372.5,253.0 380.0,245.5 388.8,238.0 400.0,220.0 410.0,205.0 420.0,188.8 430.0,180.5 440.0,176.2 450.0,177.0 462.5,177.5 478.0,178.0 488.0,183.0 498.0,185.0 510.5,183.0 526.8,187.5 538.0,182.0 550.5,178.8 564.2,175.8 578.0,162.5 593.0,145.0 608.0,130.5 623.0,125.0 638.0,116.2 653.0,109.5 668.0,103.8 683.0,96.2 698.0,86.2 710.5,79.5 720.5,77.0 730.5,78.0 740.5,80.5 750.5,86.2 758.0,87.5 765.5,93.8 778.0,101.2 790.5,112.5 803.0,121.2 815.5,131.2 828.0,141.2 838.0,150.0 845.5,152.0 858.0,152.0 873.0,152.5 883.0,156.2 898.0,163.8 913.0,165.0 928.0,166.8 940.5,163.0 956.0,158.0 968.5,148.8 981.0,141.2 993.5,131.2 1006.0,123.8 1018.5,121.8 1031.0,123.8 1043.5,128.8 1056.0,132.5 1068.5,138.8 1081.0,146.2 1098.5,151.8 1111.0,148.8 1126.0,140.0 1141.0,130.8 1151.0,133.0 1163.5,136.8 1176.0,136.8 1188.5,138.2 1201.0,138.0 1216.0,145.0 1228.5,145.0 1243.5,140.5 1256.0,140.8 1268.5,143.8 1281.0,145.5 1293.5,144.5 1306.0,142.5 1316.0,138.8 1326.0,142.5 1334.0,143.8 1341.5,147.5 1351.5,150.0 1361.5,149.5 1371.5,150.5 1381.5,146.2 1391.5,140.0 1401.5,130.0 1411.5,121.2 1421.5,113.0 1431.5,108.0 1441.5,108.0 1451.5,106.2 1460.2,103.0 1469.0,104.2 1477.8,103.8 1486.5,108.2 1496.5,112.5 1506.5,118.8 1512.8,125.0" fill="none" stroke="#008000" stroke-width="1.8" stroke-linejoin="round" class="c"/>
<text x="795.0" y="43.4" font-size="16.8" fill="#ff0000" font-weight="bold" textLength="43.7" lengthAdjust="spacingAndGlyphs" >13,10</text>
<text x="1535.2" y="78.0" font-size="16.8" fill="#ff0000" font-weight="bold" textLength="106.3" lengthAdjust="spacingAndGlyphs" >12,54 / 12,39</text>
<text x="1576.0" y="120.0" font-size="16" fill="#ff0000" font-weight="bold" textLength="38.0" lengthAdjust="spacingAndGlyphs" >11,83</text>
<text x="1600.2" y="158.0" font-size="16" fill="#ff0000" font-weight="bold" textLength="101.8" lengthAdjust="spacingAndGlyphs" >11,10 / 11,035</text>
<text x="1601.5" y="216.2" font-size="16.8" fill="#ff0000" font-weight="bold" textLength="116.7" lengthAdjust="spacingAndGlyphs" >10,24 / 10,125</text>
<text x="1634.0" y="318.5" font-size="16.8" fill="#ff0000" font-weight="bold" textLength="97.6" lengthAdjust="spacingAndGlyphs" >8,425 / 8,08</text>
<text x="387.5" y="397.0" font-size="16.8" fill="#ff0000" font-weight="bold" textLength="43.5" lengthAdjust="spacingAndGlyphs" >7,030</text>
<text x="182.2" y="442.0" font-size="16.8" fill="#ff0000" font-weight="bold" textLength="32.8" lengthAdjust="spacingAndGlyphs" >6,21</text>
<text x="680.5" y="199.3" font-size="17.6" fill="#ff0000" font-weight="bold" textLength="91.2" lengthAdjust="spacingAndGlyphs" >MMS (200)</text>
<text x="931.7" y="191.8" font-size="17.6" fill="#008000" font-weight="bold" textLength="82.3" lengthAdjust="spacingAndGlyphs" >MMS (40)</text>
<rect x="70" y="440" width="180" height="14" fill="#fff" class="c"/>
<text x="75.5" y="450.6" font-size="14.5" fill="#a9add0" font-weight="bold" textLength="169.6" lengthAdjust="spacingAndGlyphs" font-family="DejaVu Sans, Liberation Sans, sans-serif">www.visualchart.com</text>
<g class="c" fill="#99ccff">
<rect x="90.0" y="487.0" width="166.7" height="5.7"/>
<rect x="274.2" y="510.0" width="166.5" height="5.7"/>
<rect x="524.0" y="556.2" width="1036.7" height="6.5"/>
<rect x="614.0" y="592.7" width="813.7" height="6.0"/>
</g>
<polyline points="6.2,527.5 25.0,527.0 37.5,522.5 50.0,523.2 62.5,530.8 75.0,537.0 85.0,538.2 100.0,534.5 110.0,527.0 120.0,512.0 130.0,504.5 145.0,503.2 160.0,497.0 172.5,492.5 185.0,494.0 197.5,498.2 207.5,509.5 220.0,524.5 232.5,537.0 245.0,548.2 255.0,555.0 267.5,552.0 277.5,547.0 290.0,547.0 302.5,553.2 315.0,559.5 325.0,559.5 335.0,554.5 345.0,539.5 355.0,524.5 362.5,518.2 375.0,522.0 387.5,535.8 400.0,549.5 410.0,558.2 425.0,564.5 440.0,572.0 450.0,573.2 462.5,572.5 478.0,572.0 493.0,571.2 510.5,578.2 525.5,579.0 540.5,572.0 553.0,568.2 565.5,567.5 583.0,574.5 598.0,577.0 613.0,580.8 628.0,579.5 643.0,576.5 658.0,575.8 673.0,577.0 688.0,578.2 703.0,575.0 718.0,572.0 733.0,573.2 748.0,577.0 760.5,577.0 775.5,569.5 790.5,560.8 800.5,562.5 813.0,570.8 825.5,579.5 838.0,580.0 853.0,575.8 868.0,572.0 883.0,571.2 898.0,572.5 913.0,575.8 928.0,579.0 943.0,580.0 956.0,582.0 971.0,585.8 986.0,589.0 1001.0,588.2 1016.0,584.5 1031.0,575.8 1043.5,567.0 1056.0,563.2 1068.5,570.8 1081.0,579.5 1093.5,585.0 1106.0,589.5 1118.5,593.8 1131.0,596.5 1141.0,596.2 1153.5,590.8 1166.0,580.8 1176.0,574.0 1188.5,570.2 1201.0,571.5 1216.0,574.5 1231.0,577.5 1246.0,580.0 1261.0,582.0 1276.0,583.8 1291.0,585.2 1306.0,585.8 1318.5,583.2 1331.0,578.2 1334.0,574.5 1349.0,575.2 1364.0,577.5 1379.0,578.8 1394.0,581.2 1409.0,582.8 1424.0,582.8 1439.0,586.2 1454.0,588.8 1469.0,589.5 1484.0,586.2 1496.5,582.8 1509.0,576.5 1512.8,571.2" fill="none" stroke="#0000ff" stroke-width="1" stroke-dasharray="1 1.3" class="c"/>
<polyline points="6.2,528.2 11.2,522.8 15.0,525.8 17.5,520.0 21.2,524.0 26.2,524.5 31.2,520.0 36.2,523.2 41.2,524.5 47.5,523.2 51.2,527.0 55.0,537.0 62.5,543.2 71.2,535.8 80.0,536.5 86.2,534.5 93.8,534.5 100.0,528.2 103.8,515.0 110.0,513.2 115.0,499.5 121.2,490.0 125.0,497.0 127.5,509.5 135.0,508.2 139.5,498.2 143.8,507.0 147.5,502.0 149.5,488.2 153.8,485.0 156.2,495.8 162.5,494.0 166.2,497.0 172.0,489.0 175.0,497.0 181.2,494.0 185.0,504.0 191.2,503.2 192.5,498.2 197.5,513.2 201.2,524.5 207.5,528.2 212.5,530.8 217.5,537.0 227.5,542.5 233.8,555.8 240.0,557.0 250.0,557.5 255.0,549.5 261.2,547.5 268.8,547.5 271.2,541.5 275.0,544.5 282.5,549.5 287.5,549.0 293.8,557.0 300.0,560.0 306.2,559.0 312.5,564.5 316.2,560.8 320.0,554.5 325.0,550.8 330.0,549.5 333.8,545.8 336.2,522.0 338.8,514.0 345.0,518.2 348.8,522.5 352.5,514.5 356.2,515.0 360.0,523.2 367.5,525.8 375.0,525.8 377.5,545.8 382.5,550.0 388.8,548.2 397.5,558.2 406.2,565.8 413.8,562.8 420.0,566.5 425.0,572.0 435.0,577.0 445.0,573.2 447.5,569.0 452.5,572.5 462.5,571.5 472.5,571.2 476.2,568.2 478.0,569.5 483.0,569.5 488.0,573.2 495.5,575.8 501.8,581.5 508.0,581.5 511.8,577.0 518.0,577.5 525.5,576.5 529.2,569.5 536.8,567.0 542.5,562.8 546.8,565.0 550.5,569.5 555.5,567.0 563.0,567.0 566.8,569.0 569.2,577.0 575.5,582.0 583.0,577.5 590.5,576.5 598.0,579.5 603.0,580.8 609.2,586.5 614.2,584.5 616.8,572.5 623.0,576.5 630.5,579.5 640.5,575.0 650.5,569.5 655.5,570.8 656.8,580.8 665.5,580.0 674.2,579.5 678.0,575.8 684.2,575.8 688.0,577.0 693.0,573.2 703.0,573.8 710.5,570.0 718.0,568.2 725.5,575.0 730.5,575.0 736.8,578.8 745.5,577.5 755.5,577.5 758.0,570.8 765.5,563.2 773.0,564.5 778.0,558.2 783.0,560.0 787.5,557.5 793.0,560.8 798.0,568.2 799.2,574.5 804.2,574.5 810.5,579.0 815.5,579.5 821.0,583.8 825.5,580.8 833.0,578.2 845.5,572.5 855.5,573.2 861.8,572.0 864.2,567.0 870.5,570.8 878.0,572.5 888.0,572.0 895.5,573.2 903.0,577.5 913.0,576.5 925.5,582.5 930.5,579.5 939.2,579.5 948.0,583.2 956.0,583.2 961.0,585.8 967.2,584.0 972.2,590.0 977.2,590.8 983.5,588.2 993.5,587.0 1002.2,585.2 1007.2,587.8 1013.5,579.5 1018.5,575.8 1023.5,568.8 1028.5,568.8 1033.5,563.2 1039.8,560.8 1046.0,562.0 1052.2,565.8 1058.5,574.5 1063.5,580.0 1069.8,580.8 1078.5,586.2 1086.0,586.5 1092.2,589.5 1099.8,590.0 1106.0,595.8 1114.8,598.2 1122.2,595.2 1128.5,597.0 1138.5,597.0 1143.5,589.5 1147.2,580.8 1153.5,575.8 1163.5,574.0 1171.0,570.8 1178.5,570.0 1184.0,567.0 1188.5,572.0 1193.5,573.2 1199.8,575.8 1204.8,575.0 1208.5,581.5 1212.2,573.2 1218.0,572.0 1224.8,580.8 1233.5,582.5 1246.0,582.5 1249.8,579.5 1253.5,582.8 1263.5,582.0 1273.5,584.0 1281.0,584.5 1286.0,589.0 1293.5,586.2 1304.8,585.8 1311.0,580.8 1318.5,577.0 1326.0,572.0 1333.5,575.8 1334.0,575.8 1340.2,573.8 1345.2,575.8 1352.8,580.0 1356.5,579.5 1361.0,575.8 1366.5,579.5 1376.5,578.8 1384.0,581.5 1387.8,583.8 1391.5,582.0 1396.5,582.8 1401.5,585.0 1404.0,584.0 1408.5,577.5 1414.0,578.8 1419.0,583.2 1424.0,588.8 1434.0,587.8 1440.2,586.2 1446.5,590.0 1454.0,592.0 1461.5,587.8 1466.5,587.0 1470.2,584.5 1476.5,587.0 1481.5,582.5 1484.8,583.2 1487.0,577.8 1497.8,577.8 1506.5,570.0 1508.2,563.2 1509.8,554.5 1512.8,550.0" fill="none" stroke="#ff0000" stroke-width="2" stroke-linejoin="round" class="c"/>
<text x="3.0" y="473.8" font-size="11" fill="#ff0000" textLength="117.8" lengthAdjust="spacingAndGlyphs" >ATRPorcentaje_ACX.MC</text>
<text x="126.6" y="473.8" font-size="11" fill="#ff0000" textLength="31.6" lengthAdjust="spacingAndGlyphs" >Line 1:</text>
<text x="162.7" y="473.8" font-size="11" fill="#0000ff" textLength="32.1" lengthAdjust="spacingAndGlyphs" >3,4985</text>
<text x="200.3" y="473.8" font-size="11" fill="#ff0000" textLength="44.5" lengthAdjust="spacingAndGlyphs" >P: 3,4168</text>
<text x="856.7" y="526.0" font-size="17.6" fill="#000080" font-weight="bold" textLength="341.2" lengthAdjust="spacingAndGlyphs" >Rango de amplitud medio en porcentaje</text>
<rect x="6" y="675" width="1507" height="1" fill="#0000ff" class="c"/>
<polyline points="6.2,663.0 15.0,657.5 25.0,655.0 32.5,658.8 41.2,661.8 50.0,666.2 60.0,670.0 67.5,680.0 75.0,690.0 83.8,696.2 91.2,688.8 98.8,682.5 105.0,683.8 111.2,691.2 118.8,703.8 127.5,713.2 135.0,708.8 142.5,700.0 150.0,687.5 156.2,678.8 162.5,663.8 170.0,651.2 178.8,646.2 187.5,647.0 195.0,651.2 205.0,655.5 215.0,658.8 225.0,662.5 232.5,665.5 240.0,661.2 248.8,653.8 255.0,652.0 262.5,658.8 270.0,668.8 277.5,676.2 285.0,681.2 292.5,683.8 302.5,680.0 312.5,673.8 320.0,673.0 327.5,680.0 335.0,682.5 342.5,682.0 350.0,673.8 357.5,663.8 365.0,650.0 372.5,639.5 382.5,638.8 392.5,640.0 405.0,643.8 415.0,648.8 425.0,658.8 435.0,670.0 445.0,672.5 455.0,678.0 462.5,677.0 470.0,672.5 478.0,669.5 488.0,673.8 498.0,678.0 508.0,675.0 518.0,678.8 528.0,685.0 535.5,677.5 543.0,666.2 553.0,660.0 563.0,661.8 573.0,657.5 583.0,648.8 588.0,647.0 598.0,653.0 608.0,658.8 618.0,664.5 628.0,670.5 638.0,670.0 648.0,668.8 658.0,661.2 668.0,655.8 678.0,658.0 685.5,658.8 693.0,661.2 703.0,668.2 713.0,670.8 723.0,676.8 733.0,680.0 743.0,678.8 753.0,684.5 763.0,684.2 773.0,688.8 783.0,694.5 793.0,696.8 803.0,693.8 813.0,690.5 823.0,687.5 830.5,691.2 838.0,691.2 848.0,683.8 858.0,676.2 868.0,673.8 878.0,677.0 888.0,683.8 898.0,688.8 908.0,688.0 918.0,685.0 928.0,675.5 938.0,663.8 945.5,657.5 951.8,655.0 956.0,655.0 966.0,661.2 976.0,665.5 986.0,667.0 996.0,667.0 1006.0,664.5 1016.0,665.5 1026.0,669.5 1036.0,678.8 1043.5,687.5 1051.0,692.5 1061.0,692.5 1071.0,688.8 1081.0,681.2 1091.0,675.5 1101.0,667.5 1111.0,661.2 1121.0,662.5 1131.0,665.5 1141.0,668.8 1148.5,677.5 1156.0,687.5 1163.5,692.0 1171.0,686.2 1178.5,676.2 1186.0,670.0 1196.0,666.2 1203.5,666.2 1211.0,671.2 1218.5,680.0 1228.5,686.2 1238.5,683.8 1248.5,675.5 1256.0,671.2 1266.0,670.0 1278.5,671.2 1291.0,673.8 1301.0,678.8 1308.5,677.5 1316.0,673.8 1326.0,675.5 1334.0,678.8 1344.0,683.8 1351.5,683.8 1359.0,677.5 1369.0,674.5 1379.0,670.0 1389.0,657.5 1396.5,650.0 1402.8,646.2 1409.0,648.8 1416.5,655.0 1424.0,660.0 1431.5,665.0 1439.0,675.5 1446.5,684.2 1452.8,685.0 1459.0,680.0 1466.5,672.5 1474.0,666.2 1480.2,663.2 1486.5,668.8 1494.0,678.8 1501.5,684.5 1509.0,693.8 1514.0,699.5" fill="none" stroke="#0000ff" stroke-width="1" stroke-dasharray="1 1.3" class="c"/>
<polyline points="6.2,653.0 12.5,654.5 16.2,652.5 20.0,655.0 25.0,654.2 28.8,658.8 33.8,665.0 38.8,663.8 43.8,667.5 48.8,671.8 56.2,671.8 62.5,678.8 68.8,688.8 73.8,696.2 77.5,699.5 83.8,698.8 86.2,690.0 90.0,681.2 95.0,676.8 100.0,680.0 105.0,687.5 111.2,700.0 117.5,712.5 122.5,720.8 126.2,718.8 132.5,706.2 136.2,698.8 141.2,695.0 145.0,682.5 148.0,675.0 151.2,677.0 155.0,676.2 156.2,663.8 160.0,651.2 166.2,640.5 170.0,640.0 172.5,643.8 177.5,642.5 182.5,647.5 188.8,648.0 192.5,655.0 196.2,655.5 200.0,659.2 205.0,655.8 212.5,660.0 217.5,660.5 223.8,663.2 228.8,668.0 233.8,667.0 237.5,661.2 243.8,652.5 248.8,645.0 252.5,648.8 257.5,658.8 262.5,668.8 268.8,675.5 273.8,681.8 278.8,684.2 282.5,682.5 287.0,685.0 293.8,683.2 300.0,678.8 306.2,671.2 313.8,668.8 317.5,671.2 321.2,680.0 325.0,686.2 328.8,683.8 335.0,682.0 338.8,684.2 342.5,680.0 346.2,670.0 350.0,663.8 355.0,661.2 360.0,650.0 363.8,638.8 367.5,633.0 372.5,632.5 376.2,636.2 381.2,640.0 386.2,636.8 391.2,641.8 397.5,642.5 405.0,647.0 412.5,652.5 420.0,660.0 425.0,665.5 428.8,671.2 432.5,676.2 437.5,677.0 443.8,674.5 450.0,679.5 457.5,681.2 462.5,676.2 467.5,671.2 472.5,668.0 478.0,668.8 484.2,673.8 491.8,679.2 500.5,679.5 506.8,671.8 510.5,671.8 515.5,677.5 521.8,687.0 526.8,688.8 530.5,682.5 533.5,668.8 539.2,660.8 544.2,659.2 550.5,655.0 554.2,656.2 559.2,662.0 564.2,665.0 569.2,657.5 575.5,648.8 582.5,641.8 588.0,647.5 594.2,655.0 600.5,661.2 605.5,662.5 610.5,665.5 614.2,663.8 618.0,668.8 625.5,673.0 630.5,672.5 635.5,669.2 641.8,671.2 648.0,663.8 654.2,657.5 660.5,651.8 665.5,653.0 671.8,655.5 678.0,662.5 681.8,662.5 687.5,656.8 691.8,661.2 696.8,668.8 701.8,673.0 708.0,669.2 713.0,672.5 718.0,679.5 724.2,680.8 730.5,681.8 738.0,677.5 743.0,681.2 748.0,685.8 753.0,687.5 756.8,680.0 761.8,683.8 768.0,688.8 774.2,692.5 779.2,697.0 784.2,696.2 789.2,698.2 795.5,695.8 801.8,690.0 808.0,689.2 815.5,687.5 821.0,685.0 825.5,691.2 830.5,695.0 835.5,693.2 840.5,686.8 843.0,681.2 848.0,678.8 851.8,672.5 859.2,670.8 864.2,673.8 869.2,674.2 874.2,677.0 880.5,680.8 885.5,683.0 891.8,691.2 898.0,691.8 903.0,685.8 909.2,690.0 914.2,687.5 919.2,680.0 925.5,668.8 930.5,665.5 936.8,654.5 943.0,651.8 949.2,651.2 953.0,655.0 956.0,658.0 963.5,662.5 969.8,668.8 976.0,666.2 983.5,668.0 988.5,669.5 994.8,665.0 1002.2,664.5 1008.5,661.8 1014.8,668.8 1019.8,666.2 1026.0,672.5 1031.0,678.8 1036.0,690.0 1041.0,695.8 1047.2,696.8 1052.2,692.5 1061.0,692.5 1068.5,686.2 1076.0,677.5 1083.5,676.2 1091.0,668.8 1098.5,665.5 1103.5,659.5 1109.8,657.5 1116.0,660.0 1121.0,666.2 1131.0,666.8 1138.5,667.5 1142.2,676.2 1147.2,686.2 1153.5,695.0 1159.8,697.0 1163.5,696.2 1168.5,682.5 1174.8,673.8 1181.0,665.0 1186.0,665.5 1191.0,663.8 1199.8,663.8 1206.0,670.0 1211.0,676.2 1216.0,685.0 1222.2,690.0 1229.8,686.2 1236.0,682.5 1241.0,680.0 1247.2,667.5 1252.2,667.0 1258.5,671.2 1267.2,670.0 1274.8,670.8 1281.0,673.0 1291.0,674.2 1296.0,680.0 1300.5,684.2 1306.0,678.8 1313.5,670.0 1318.5,670.8 1324.8,677.0 1331.0,680.8 1334.0,681.2 1339.0,685.0 1344.0,687.0 1349.0,686.8 1352.8,680.0 1356.0,671.8 1362.8,673.8 1369.0,671.8 1374.0,671.2 1380.2,663.8 1385.2,652.5 1389.0,647.5 1394.0,646.2 1398.5,643.0 1404.0,646.2 1409.0,653.8 1415.2,660.8 1421.5,665.5 1427.8,667.5 1432.8,673.8 1437.8,685.0 1441.5,690.0 1446.5,689.5 1451.5,685.0 1456.5,676.2 1461.5,668.8 1469.0,665.5 1474.0,660.8 1477.8,660.0 1481.5,664.5 1485.2,672.0 1487.8,678.8 1492.8,687.5 1496.5,688.8 1500.2,688.0 1505.2,693.8 1507.8,696.2 1509.8,705.0 1512.8,715.0" fill="none" stroke="#ff0000" stroke-width="2" stroke-linejoin="round" class="c"/>
<line x1="1384" y1="639.7" x2="1512" y2="663.7" stroke="#000080" stroke-width="2"/>
<text x="3.0" y="621.8" font-size="11" fill="#ff0000" textLength="76.2" lengthAdjust="spacingAndGlyphs" >MACD_ACX.MC</text>
<text x="85.5" y="621.8" font-size="11" fill="#ff0000" textLength="33.7" lengthAdjust="spacingAndGlyphs" >MACD:</text>
<text x="124.5" y="621.8" font-size="11" fill="#0000ff" textLength="35.0" lengthAdjust="spacingAndGlyphs" >-0,4348</text>
<text x="165.5" y="621.8" font-size="11" fill="#0000ff" textLength="90.8" lengthAdjust="spacingAndGlyphs" >MediaSIG: -0,2595</text>
<text x="262.3" y="621.8" font-size="11" fill="#0000ff" textLength="102.0" lengthAdjust="spacingAndGlyphs" >Band_MACD: 0,0000</text>
<text x="370.0" y="621.8" font-size="11" fill="#ff0000" textLength="44.2" lengthAdjust="spacingAndGlyphs" >P: 1,2821</text>
<text x="996.0" y="648.0" font-size="17.6" fill="#000080" font-weight="bold" textLength="52.5" lengthAdjust="spacingAndGlyphs" >MACD</text>
<ellipse cx="1507.3" cy="837" rx="10.8" ry="30" fill="#00ff00"/>
<path d="M5 872V819h2V872M7 872V798h2V872M9 872V747h2V872M11 872V762h2V872M13 872V747h2V872M15 872V747h2V872M17 872V810h2V872M19 872V807h2V872M21 872V815h2V872M23 872V786h2V872M25 872V797h2V872M27 872V747h2V872M28 872V826h2V872M30 872V799h2V872M32 872V824h2V872M34 872V811h2V872M36 872V747h2V872M38 872V781h2V872M40 872V802h2V872M42 872V747h2V872M44 872V825h2V872M46 872V747h2V872M48 872V802h2V872M50 872V808h2V872M52 872V843h2V872M54 872V776h2V872M56 872V781h2V872M58 872V826h2V872M60 872V820h2V872M62 872V809h2V872M64 872V818h2V872M66 872V826h2V872M68 872V812h2V872M70 872V788h2V872M72 872V794h2V872M73 872V798h2V872M75 872V773h2V872M77 872V809h2V872M79 872V809h2V872M81 872V794h2V872M83 872V747h2V872M85 872V747h2V872M87 872V794h2V872M89 872V803h2V872M91 872V826h2V872M93 872V824h2V872M95 872V841h2V872M97 872V813h2V872M99 872V803h2V872M101 872V814h2V872M103 872V803h2V872M105 872V816h2V872M107 872V796h2V872M109 872V753h2V872M111 872V797h2V872M113 872V748h2V872M115 872V747h2V872M116 872V760h2V872M118 872V799h2V872M120 872V805h2V872M122 872V784h2V872M124 872V747h2V872M126 872V802h2V872M128 872V804h2V872M130 872V747h2V872M132 872V747h2V872M134 872V752h2V872M136 872V759h2V872M138 872V747h2V872M140 872V797h2V872M142 872V747h2V872M144 872V787h2V872M146 872V750h2V872M148 872V826h2V872M150 872V800h2V872M152 872V765h2V872M154 872V754h2V872M156 872V747h2V872M158 872V747h2V872M160 872V818h2V872M161 872V762h2V872M163 872V796h2V872M165 872V761h2V872M167 872V796h2V872M169 872V760h2V872M171 872V807h2V872M173 872V765h2V872M175 872V803h2V872M177 872V809h2V872M179 872V747h2V872M181 872V769h2V872M183 872V747h2V872M185 872V786h2V872M187 872V754h2V872M189 872V791h2V872M191 872V781h2V872M193 872V779h2V872M195 872V781h2V872M197 872V826h2V872M199 872V798h2V872M201 872V794h2V872M203 872V764h2V872M205 872V779h2V872M206 872V809h2V872M208 872V792h2V872M210 872V783h2V872M212 872V811h2V872M214 872V839h2V872M216 872V832h2V872M218 872V817h2V872M220 872V827h2V872M222 872V832h2V872M224 872V791h2V872M226 872V822h2V872M228 872V802h2V872M230 872V815h2V872M232 872V825h2V872M234 872V763h2V872M236 872V805h2V872M238 872V820h2V872M240 872V809h2V872M242 872V820h2V872M244 872V838h2V872M246 872V764h2V872M248 872V831h2V872M249 872V774h2V872M251 872V747h2V872M253 872V830h2V872M255 872V760h2V872M257 872V836h2V872M259 872V840h2V872M261 872V748h2V872M263 872V816h2V872M265 872V823h2V872M267 872V804h2V872M269 872V819h2V872M271 872V804h2V872M273 872V839h2V872M275 872V819h2V872M277 872V789h2V872M279 872V810h2V872M281 872V825h2V872M283 872V802h2V872M285 872V818h2V872M287 872V793h2V872M289 872V802h2V872M291 872V844h2V872M293 872V809h2V872M294 872V813h2V872M296 872V818h2V872M298 872V828h2V872M300 872V838h2V872M302 872V840h2V872M304 872V852h2V872M306 872V850h2V872M308 872V847h2V872M310 872V845h2V872M312 872V825h2V872M314 872V827h2V872M316 872V845h2V872M318 872V830h2V872M320 872V850h2V872M322 872V832h2V872M324 872V764h2V872M326 872V846h2V872M328 872V809h2V872M330 872V843h2V872M332 872V834h2V872M334 872V747h2V872M336 872V757h2V872M338 872V773h2V872M339 872V811h2V872M341 872V747h2V872M343 872V788h2V872M345 872V816h2V872M347 872V808h2V872M349 872V798h2V872M351 872V778h2V872M353 872V801h2V872M355 872V767h2V872M357 872V798h2V872M359 872V757h2V872M361 872V814h2V872M363 872V807h2V872M365 872V818h2V872M367 872V802h2V872M369 872V796h2V872M371 872V789h2V872M373 872V831h2V872M375 872V826h2V872M377 872V819h2V872M379 872V793h2V872M381 872V747h2V872M383 872V807h2V872M384 872V786h2V872M386 872V810h2V872M388 872V770h2V872M390 872V832h2V872M392 872V825h2V872M394 872V831h2V872M396 872V819h2V872M398 872V833h2V872M400 872V831h2V872M402 872V837h2V872M404 872V850h2V872M406 872V834h2V872M408 872V831h2V872M410 872V836h2V872M412 872V837h2V872M414 872V837h2V872M416 872V797h2V872M418 872V840h2V872M420 872V855h2V872M422 872V850h2V872M424 872V856h2V872M426 872V839h2V872M427 872V851h2V872M429 872V850h2V872M431 872V852h2V872M433 872V848h2V872M435 872V830h2V872M437 872V841h2V872M439 872V839h2V872M441 872V852h2V872M443 872V862h2V872M445 872V788h2V872M447 872V839h2V872M449 872V849h2V872M451 872V856h2V872M453 872V840h2V872M455 872V841h2V872M457 872V853h2V872M459 872V840h2V872M461 872V816h2V872M463 872V846h2V872M465 872V850h2V872M467 872V847h2V872M469 872V848h2V872M471 872V850h2V872M472 872V845h2V872M474 872V846h2V872M476 872V837h2V872M478 872V845h2V872M480 872V837h2V872M482 872V846h2V872M484 872V840h2V872M486 872V849h2V872M488 872V847h2V872M490 872V830h2V872M492 872V812h2V872M494 872V840h2V872M496 872V844h2V872M498 872V847h2V872M500 872V840h2V872M502 872V809h2V872M504 872V817h2V872M506 872V837h2V872M508 872V776h2V872M510 872V842h2V872M512 872V839h2V872M514 872V808h2V872M516 872V830h2V872M517 872V846h2V872M519 872V768h2V872M521 872V824h2V872M523 872V830h2V872M525 872V852h2V872M527 872V747h2V872M529 872V747h2V872M531 872V820h2V872M533 872V747h2V872M535 872V830h2V872M537 872V819h2V872M539 872V812h2V872M541 872V832h2V872M543 872V782h2V872M545 872V828h2V872M547 872V828h2V872M549 872V774h2V872M551 872V807h2V872M553 872V785h2V872M555 872V779h2V872M557 872V815h2V872M559 872V807h2V872M561 872V830h2V872M562 872V832h2V872M564 872V758h2V872M566 872V764h2V872M568 872V800h2V872M570 872V815h2V872M572 872V826h2V872M574 872V787h2V872M576 872V832h2V872M578 872V838h2V872M580 872V835h2V872M582 872V826h2V872M584 872V823h2V872M586 872V850h2V872M588 872V848h2V872M590 872V853h2V872M592 872V849h2V872M594 872V855h2V872M596 872V855h2V872M598 872V847h2V872M600 872V839h2V872M602 872V845h2V872M604 872V859h2V872M605 872V859h2V872M607 872V858h2V872M609 872V860h2V872M611 872V843h2V872M613 872V747h2V872M615 872V841h2V872M617 872V783h2V872M619 872V840h2V872M621 872V836h2V872M623 872V812h2V872M625 872V842h2V872M627 872V837h2V872M629 872V843h2V872M631 872V795h2V872M633 872V836h2V872M635 872V840h2V872M637 872V827h2V872M639 872V825h2V872M641 872V812h2V872M643 872V747h2V872M645 872V834h2V872M647 872V798h2V872M649 872V829h2V872M650 872V847h2V872M652 872V845h2V872M654 872V828h2V872M656 872V808h2V872M658 872V800h2V872M660 872V850h2V872M662 872V840h2V872M664 872V848h2V872M666 872V839h2V872M668 872V846h2V872M670 872V850h2V872M672 872V817h2V872M674 872V845h2V872M676 872V842h2V872M678 872V849h2V872M680 872V776h2V872M682 872V825h2V872M684 872V848h2V872M686 872V847h2V872M688 872V848h2V872M690 872V848h2V872M692 872V836h2V872M694 872V783h2V872M695 872V832h2V872M697 872V841h2V872M699 872V812h2V872M701 872V822h2V872M703 872V791h2V872M705 872V815h2V872M707 872V822h2V872M709 872V822h2V872M711 872V826h2V872M713 872V827h2V872M715 872V755h2V872M717 872V818h2V872M719 872V817h2V872M721 872V833h2V872M723 872V818h2V872M725 872V830h2V872M727 872V801h2V872M729 872V847h2V872M731 872V844h2V872M733 872V806h2V872M735 872V815h2V872M737 872V840h2V872M739 872V838h2V872M740 872V817h2V872M742 872V842h2V872M744 872V832h2V872M746 872V845h2V872M748 872V832h2V872M750 872V823h2V872M752 872V842h2V872M754 872V784h2V872M756 872V747h2V872M758 872V789h2V872M760 872V777h2V872M762 872V781h2V872M764 872V813h2V872M766 872V778h2V872M768 872V835h2V872M770 872V835h2V872M772 872V815h2V872M774 872V755h2V872M776 872V828h2V872M778 872V822h2V872M780 872V791h2V872M782 872V799h2V872M783 872V809h2V872M785 872V750h2V872M787 872V843h2V872M789 872V817h2V872M791 872V797h2V872M793 872V807h2V872M795 872V778h2V872M797 872V828h2V872M799 872V818h2V872M801 872V800h2V872M803 872V829h2V872M805 872V830h2V872M807 872V833h2V872M809 872V838h2V872M811 872V845h2V872M813 872V812h2V872M815 872V825h2V872M817 872V775h2V872M819 872V835h2V872M821 872V844h2V872M823 872V802h2V872M825 872V844h2V872M827 872V747h2V872M828 872V828h2V872M830 872V846h2V872M832 872V841h2V872M834 872V843h2V872M836 872V808h2V872M838 872V842h2V872M840 872V855h2V872M842 872V845h2V872M844 872V840h2V872M846 872V839h2V872M848 872V840h2V872M850 872V832h2V872M852 872V849h2V872M854 872V839h2V872M856 872V852h2V872M858 872V847h2V872M860 872V840h2V872M862 872V849h2V872M864 872V781h2V872M866 872V825h2V872M868 872V821h2V872M870 872V848h2V872M872 872V846h2V872M873 872V845h2V872M875 872V831h2V872M877 872V816h2V872M879 872V790h2V872M881 872V833h2V872M883 872V779h2V872M885 872V826h2V872M887 872V841h2V872M889 872V838h2V872M891 872V800h2V872M893 872V813h2V872M895 872V813h2V872M897 872V806h2V872M899 872V763h2V872M901 872V817h2V872M903 872V785h2V872M905 872V821h2V872M907 872V841h2V872M909 872V827h2V872M911 872V819h2V872M913 872V835h2V872M915 872V833h2V872M916 872V833h2V872M918 872V834h2V872M920 872V815h2V872M922 872V799h2V872M924 872V843h2V872M926 872V846h2V872M928 872V759h2V872M930 872V845h2V872M932 872V846h2V872M934 872V834h2V872M936 872V845h2V872M938 872V841h2V872M940 872V839h2V872M942 872V834h2V872M944 872V837h2V872M946 872V848h2V872M948 872V844h2V872M950 872V841h2V872M952 872V825h2V872M954 872V841h2V872M956 872V838h2V872M958 872V829h2V872M960 872V808h2V872M961 872V818h2V872M963 872V824h2V872M965 872V842h2V872M967 872V841h2V872M969 872V831h2V872M971 872V839h2V872M973 872V816h2V872M975 872V815h2V872M977 872V836h2V872M979 872V847h2V872M981 872V829h2V872M983 872V835h2V872M985 872V844h2V872M987 872V832h2V872M989 872V841h2V872M991 872V822h2V872M993 872V845h2V872M995 872V849h2V872M997 872V838h2V872M999 872V836h2V872M1001 872V841h2V872M1003 872V813h2V872M1005 872V844h2V872M1006 872V827h2V872M1008 872V847h2V872M1010 872V776h2V872M1012 872V848h2V872M1014 872V747h2V872M1016 872V788h2V872M1018 872V783h2V872M1020 872V811h2V872M1022 872V837h2V872M1024 872V848h2V872M1026 872V844h2V872M1028 872V802h2V872M1030 872V826h2V872M1032 872V831h2V872M1034 872V817h2V872M1036 872V835h2V872M1038 872V807h2V872M1040 872V798h2V872M1042 872V817h2V872M1044 872V811h2V872M1046 872V747h2V872M1048 872V836h2V872M1050 872V847h2V872M1051 872V820h2V872M1053 872V842h2V872M1055 872V842h2V872M1057 872V836h2V872M1059 872V847h2V872M1061 872V846h2V872M1063 872V851h2V872M1065 872V845h2V872M1067 872V848h2V872M1069 872V855h2V872M1071 872V846h2V872M1073 872V845h2V872M1075 872V837h2V872M1077 872V846h2V872M1079 872V847h2V872M1081 872V857h2V872M1083 872V856h2V872M1085 872V844h2V872M1087 872V846h2V872M1089 872V823h2V872M1091 872V833h2V872M1093 872V854h2V872M1094 872V853h2V872M1096 872V851h2V872M1098 872V848h2V872M1100 872V854h2V872M1102 872V834h2V872M1104 872V850h2V872M1106 872V846h2V872M1108 872V825h2V872M1110 872V856h2V872M1112 872V834h2V872M1114 872V828h2V872M1116 872V840h2V872M1118 872V848h2V872M1120 872V845h2V872M1122 872V848h2V872M1124 872V854h2V872M1126 872V842h2V872M1128 872V839h2V872M1130 872V848h2V872M1132 872V850h2V872M1134 872V841h2V872M1136 872V840h2V872M1138 872V799h2V872M1139 872V849h2V872M1141 872V848h2V872M1143 872V840h2V872M1145 872V788h2V872M1147 872V853h2V872M1149 872V853h2V872M1151 872V812h2V872M1153 872V848h2V872M1155 872V846h2V872M1157 872V838h2V872M1159 872V838h2V872M1161 872V833h2V872M1163 872V749h2V872M1165 872V783h2V872M1167 872V796h2V872M1169 872V821h2V872M1171 872V830h2V872M1173 872V830h2V872M1175 872V847h2V872M1177 872V823h2V872M1179 872V799h2V872M1181 872V786h2V872M1183 872V827h2V872M1184 872V830h2V872M1186 872V840h2V872M1188 872V833h2V872M1190 872V820h2V872M1192 872V849h2V872M1194 872V840h2V872M1196 872V822h2V872M1198 872V849h2V872M1200 872V840h2V872M1202 872V843h2V872M1204 872V829h2V872M1206 872V839h2V872M1208 872V837h2V872M1210 872V853h2V872M1212 872V838h2V872M1214 872V829h2V872M1216 872V833h2V872M1218 872V850h2V872M1220 872V849h2V872M1222 872V852h2V872M1224 872V857h2V872M1226 872V856h2V872M1227 872V859h2V872M1229 872V853h2V872M1231 872V850h2V872M1233 872V840h2V872M1235 872V841h2V872M1237 872V846h2V872M1239 872V841h2V872M1241 872V810h2V872M1243 872V808h2V872M1245 872V845h2V872M1247 872V843h2V872M1249 872V842h2V872M1251 872V852h2V872M1253 872V820h2V872M1255 872V841h2V872M1257 872V850h2V872M1259 872V832h2V872M1261 872V839h2V872M1263 872V850h2V872M1265 872V845h2V872M1267 872V838h2V872M1269 872V850h2V872M1271 872V840h2V872M1272 872V851h2V872M1274 872V854h2V872M1276 872V851h2V872M1278 872V832h2V872M1280 872V840h2V872M1282 872V845h2V872M1284 872V849h2V872M1286 872V841h2V872M1288 872V844h2V872M1290 872V842h2V872M1292 872V835h2V872M1294 872V844h2V872M1296 872V855h2V872M1298 872V850h2V872M1300 872V857h2V872M1302 872V803h2V872M1304 872V855h2V872M1306 872V835h2V872M1308 872V844h2V872M1310 872V852h2V872M1312 872V841h2V872M1314 872V831h2V872M1316 872V844h2V872M1317 872V838h2V872M1319 872V840h2V872M1321 872V790h2V872M1323 872V831h2V872M1325 872V813h2V872M1327 872V831h2V872M1329 872V829h2V872M1331 872V824h2V872M1333 872V783h2V872M1335 872V847h2V872M1337 872V843h2V872M1339 872V842h2V872M1341 872V825h2V872M1343 872V835h2V872M1345 872V852h2V872M1347 872V854h2V872M1349 872V840h2V872M1351 872V839h2V872M1353 872V844h2V872M1355 872V819h2V872M1357 872V837h2V872M1359 872V837h2V872M1361 872V844h2V872M1362 872V850h2V872M1364 872V852h2V872M1366 872V826h2V872M1368 872V840h2V872M1370 872V848h2V872M1372 872V862h2V872M1374 872V807h2V872M1376 872V844h2V872M1378 872V848h2V872M1380 872V747h2V872M1382 872V797h2V872M1384 872V836h2V872M1386 872V848h2V872M1388 872V843h2V872M1390 872V813h2V872M1392 872V842h2V872M1394 872V849h2V872M1396 872V829h2V872M1398 872V840h2V872M1400 872V835h2V872M1402 872V849h2V872M1404 872V838h2V872M1405 872V828h2V872M1407 872V849h2V872M1409 872V843h2V872M1411 872V846h2V872M1413 872V856h2V872M1415 872V828h2V872M1417 872V854h2V872M1419 872V858h2V872M1421 872V843h2V872M1423 872V862h2V872M1425 872V849h2V872M1427 872V852h2V872M1429 872V860h2V872M1431 872V850h2V872M1433 872V850h2V872M1435 872V840h2V872M1437 872V852h2V872M1439 872V861h2V872M1441 872V855h2V872M1443 872V862h2V872M1445 872V848h2V872M1447 872V843h2V872M1449 872V835h2V872M1450 872V837h2V872M1452 872V852h2V872M1454 872V848h2V872M1456 872V855h2V872M1458 872V821h2V872M1460 872V827h2V872M1462 872V850h2V872M1464 872V847h2V872M1466 872V834h2V872M1468 872V842h2V872M1470 872V843h2V872M1472 872V847h2V872M1474 872V847h2V872M1476 872V818h2V872M1478 872V840h2V872M1480 872V840h2V872M1482 872V823h2V872M1484 872V859h2V872M1486 872V805h2V872M1488 872V847h2V872M1490 872V850h2V872M1492 872V829h2V872M1494 872V804h2V872M1495 872V829h2V872M1497 872V833h2V872M1499 872V837h2V872M1501 872V839h2V872M1503 872V825h2V872M1505 872V840h3V872M1508 872V747h2V872M1510 872V759h2V872M1512 872V812h2V872Z" fill="#0000ff" class="c"/>
<polyline points="6.2,779.0 17.5,777.0 27.5,780.8 37.5,785.8 47.5,788.2 57.5,799.5 66.2,805.0 75.0,804.5 86.2,798.2 100.0,802.8 110.0,794.5 120.0,786.5 127.5,784.5 136.2,768.2 145.0,762.0 152.5,764.5 160.0,761.5 167.5,765.8 175.0,775.0 183.8,773.2 192.5,770.0 200.0,783.2 210.0,788.2 220.0,797.0 227.5,812.0 235.0,820.8 242.5,822.5 250.0,817.0 260.0,806.5 271.2,799.5 281.2,802.0 290.0,812.0 300.0,824.5 310.0,830.8 322.5,831.5 332.5,824.5 338.8,807.0 343.8,800.0 352.5,797.5 362.5,789.5 372.5,794.5 377.5,808.2 381.2,815.8 388.8,809.5 397.5,813.2 406.2,822.0 417.5,828.2 425.0,839.5 435.0,842.8 445.0,842.0 455.0,837.0 465.0,832.0 478.0,831.5 488.0,833.2 500.5,834.5 510.5,828.2 520.5,826.5 526.8,825.8 530.5,812.0 536.8,807.5 545.5,807.5 553.0,811.5 565.5,810.0 574.2,818.2 583.0,814.5 593.0,820.0 603.0,829.5 610.5,840.0 614.2,840.8 618.0,830.8 628.0,830.2 635.5,823.2 643.0,820.8 648.0,812.0 653.0,810.8 655.5,823.2 665.5,823.2 674.2,827.5 683.0,824.5 689.2,829.0 698.0,825.8 705.5,825.8 713.0,820.0 719.2,819.5 725.5,823.2 733.0,822.0 743.0,825.0 753.0,820.8 760.5,812.0 768.0,805.0 778.0,797.5 786.8,792.5 795.5,799.0 803.0,810.8 813.0,822.0 820.5,830.8 825.5,833.2 830.5,828.2 840.5,825.8 853.0,825.8 864.2,826.5 868.0,828.2 880.5,825.8 890.5,818.2 898.0,811.5 905.5,814.5 913.0,819.5 923.0,820.8 930.5,827.0 940.5,825.8 948.0,828.2 956.0,828.2 966.0,830.0 976.0,837.5 988.5,834.5 1001.0,837.0 1011.0,834.5 1021.0,823.2 1031.0,819.5 1041.0,814.0 1048.5,815.0 1056.0,823.2 1063.5,832.0 1073.5,839.5 1086.0,842.0 1096.0,841.5 1106.0,845.8 1118.5,845.0 1131.0,847.0 1141.0,842.0 1151.0,834.5 1163.5,832.0 1168.5,824.5 1178.5,822.5 1183.5,820.0 1191.0,823.2 1201.0,824.5 1208.5,830.8 1218.5,830.2 1226.0,835.8 1238.5,840.0 1248.5,838.2 1261.0,840.0 1271.0,840.8 1281.0,839.0 1291.0,842.0 1301.0,842.0 1311.0,835.0 1318.5,835.8 1328.5,830.2 1334.0,830.8 1344.0,833.2 1354.0,832.0 1364.0,839.5 1374.0,841.5 1384.0,834.5 1394.0,833.2 1404.0,831.5 1414.0,833.2 1421.5,842.0 1429.0,849.5 1439.0,851.5 1449.0,850.8 1459.0,845.8 1469.0,842.0 1479.0,841.2 1489.0,840.0 1499.0,838.2 1506.5,835.8 1512.8,827.0" fill="none" stroke="#008000" stroke-width="2" stroke-linejoin="round" class="c"/>
<polyline points="6.2,815.0 50.0,812.5 100.0,810.8 137.5,806.5 175.0,803.8 200.0,803.0 250.0,804.0 300.0,805.8 350.0,805.8 400.0,806.2 450.0,810.8 478.0,812.0 528.0,813.2 578.0,813.2 615.5,815.0 653.0,815.8 703.0,816.5 753.0,815.8 803.0,815.8 853.0,817.0 903.0,817.8 956.0,819.0 1006.0,820.8 1056.0,821.2 1106.0,824.0 1156.0,825.2 1206.0,825.8 1256.0,827.0 1306.0,828.2 1334.0,829.0 1384.0,829.5 1434.0,831.2 1484.0,832.8 1512.8,832.0" fill="none" stroke="#ff0000" stroke-width="2" stroke-linejoin="round" class="c"/>
<text x="3.0" y="743.8" font-size="11" fill="#0000ff" textLength="61.6" lengthAdjust="spacingAndGlyphs" >Vol_ACX.MC</text>
<text x="70.6" y="743.8" font-size="11" fill="#0000ff" textLength="70.1" lengthAdjust="spacingAndGlyphs" >Vol: 1.453.284</text>
<text x="146.4" y="743.8" font-size="11" fill="#ff0000" textLength="59.6" lengthAdjust="spacingAndGlyphs" >P: 8.054.598</text>
<text x="1562.2" y="783.5" font-size="17.6" fill="#ff0000" font-weight="bold" textLength="175.5" lengthAdjust="spacingAndGlyphs" >MMS (200, volumen)</text>
<text x="1566.5" y="826.0" font-size="17.6" fill="#008000" font-weight="bold" textLength="165.5" lengthAdjust="spacingAndGlyphs" >MMS (20, volumen)</text>
</svg></body></html>
